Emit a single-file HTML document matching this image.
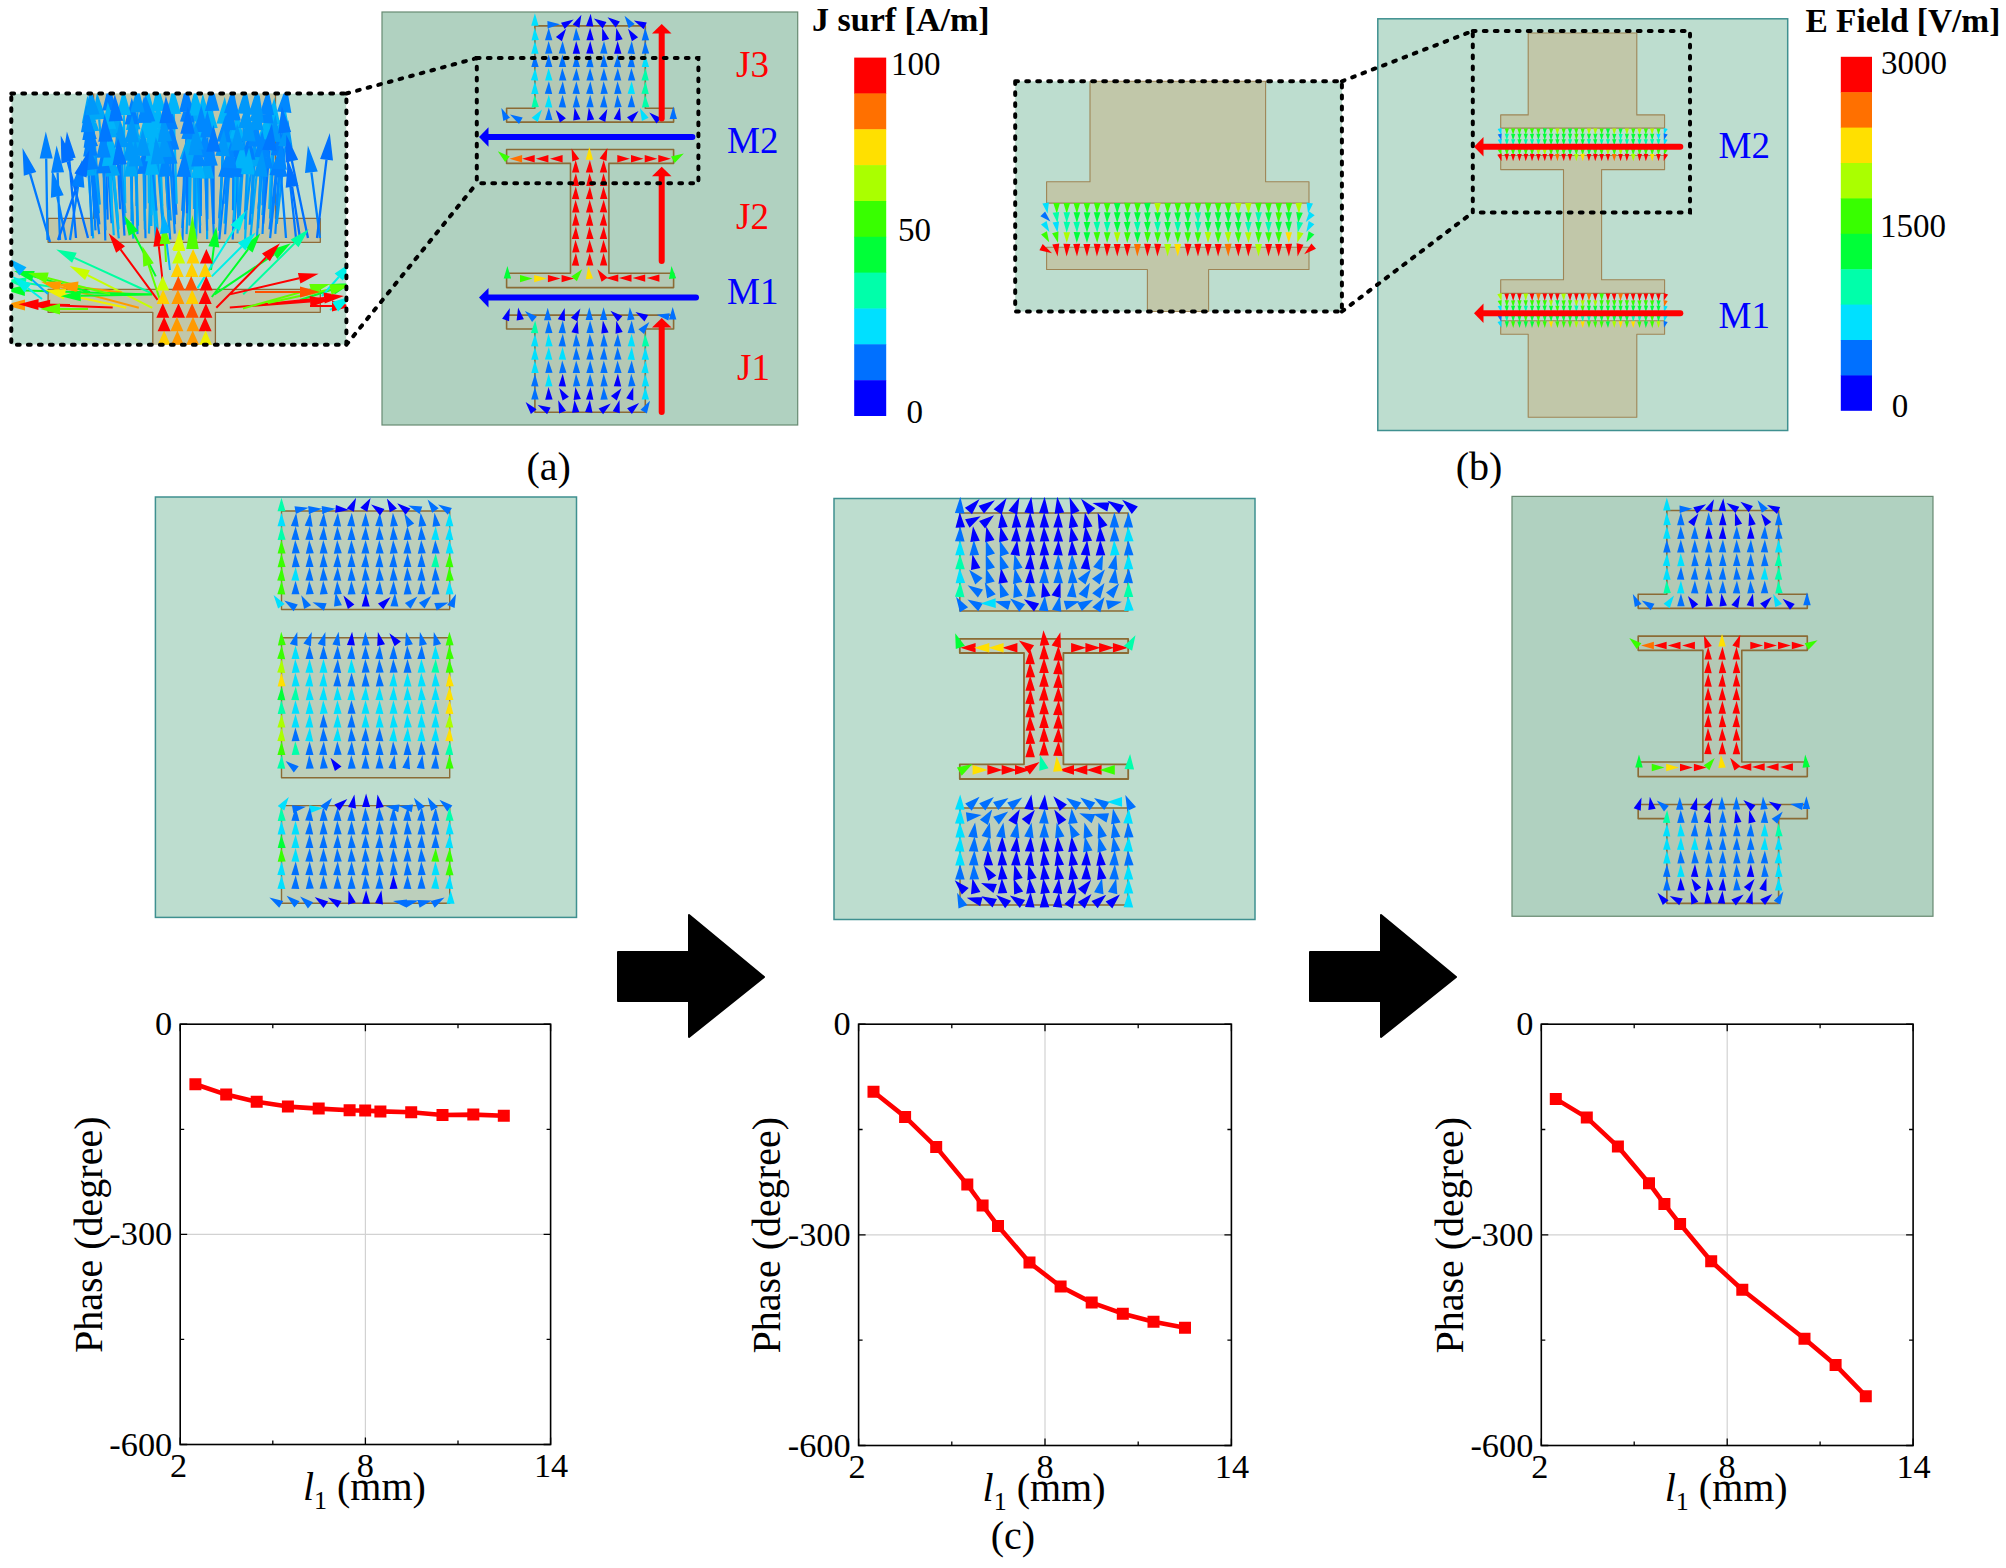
<!DOCTYPE html>
<html><head><meta charset="utf-8"><title>Figure</title>
<style>html,body{margin:0;padding:0;background:#fff}svg{display:block}text{font-family:'Liberation Serif','Times New Roman',serif}</style>
</head><body>
<svg width="2006" height="1568" viewBox="0 0 2006 1568">
<defs><clipPath id="cpa"><rect x="11.3" y="93.5" width="335.1" height="251.2"/></clipPath></defs>
<g clip-path="url(#cpa)">
<rect x="11.3" y="93.5" width="335.1" height="251.2" fill="#bdddcf"/>
<polygon points="93.6,80 275.5,80 275.5,218.4 320.3,218.4 320.3,242.3 48.1,242.3 48.1,218.4 93.6,218.4" fill="#c1c7a9" stroke="#8f6a38" stroke-width="1.3" stroke-linejoin="round"/>
<polygon points="48.1,289.4 320.3,289.4 320.3,312.3 215.4,312.3 215.4,360 152.8,360 152.8,312.3 48.1,312.3" fill="#c1c7a9" stroke="#8f6a38" stroke-width="1.3" stroke-linejoin="round"/>
<path d="M93.2 238.4L88.6 175.8M118.8 238.4L112.8 176M133.3 238.6L131 176.4M207.1 239.3L207 178.4M149 233.6L150.7 168.4M186.6 234.1L189.1 169.6M250.6 235.9L257.4 166.5M182.2 228.2L186.9 159.6M138 225.8L136.1 150.1M151.3 225.9L151.9 151.7M163.9 224.5L157 150M189.5 225.6L191.2 152M224.5 223.7L230.4 150M118 220.7L110.5 137.6M99 213.4L92 131.4M125.5 213L117.8 133.4M137.5 215.3L133.3 129.7M262.4 215L270 130.5M94.6 210.6L89 122.7M106.7 209.3L99.2 119.4M194 209L193.6 121.6" stroke="#00a8f8" stroke-width="2.2" fill="none"/>
<path d="M105.3 240.5L103.7 173.2M145.5 238.2L144.2 173.7M182.5 240.3L183.9 177M219.3 239.3L225.5 177.2M232.7 239.5L235.5 176.9M270.1 238.1L276.7 175.8M99.2 234.2L91.4 169.6M95.5 230.3L90.4 156.1M234.1 228.3L238.8 157.5M245.3 229.5L248.1 159.5M269.5 229.4L277.9 156M99.4 224.4L90.8 146.9M111.6 223.3L106.7 151.2M175 224.2L172.1 149.8M95.1 218.8L89.6 139.6M176.5 214.7L170.7 129.6M131.9 208.9L131.8 124.4M182.2 210.8L187.3 122M111.5 203.2L109.6 110.3M187.1 205.4L186.3 111.8" stroke="#0080ff" stroke-width="2.2" fill="none"/>
<path d="M155.8 240.2L152.2 174.9M196.1 239L197.9 178M245.1 240.1L247.9 174.4M113.8 235.2L109.2 165.8M237.5 233.5L241 168.4M118.6 229.4L112.4 159.8M157.6 229.3L152.5 160.7M144.8 220.9L145.7 138.4M156 218.2L153.5 142.6M195.2 219.9L197.4 141.6M234 219.7L236.8 138.7M258.5 219.2L265 139.4M112.3 214.6L108.9 129M151.6 215.3L152.9 132.9M161.9 213.4L158.7 128.6M213.2 214.2L210.5 128.3M276.7 215.8L282.9 132.2M206.7 209.8L203.7 120.5M220.5 209.8L223.8 123.8M269.2 209.1L273.1 124.3M125.2 203.3L123.9 115.2M148.9 203.2L147.9 114.1M162.3 205.8L158.7 110.9M176.7 203.8L173.8 113.9M200.6 205.9L196.4 115.5" stroke="#00b4fa" stroke-width="2.2" fill="none"/>
<path d="M170.2 239.5L165.9 176.6M174.8 233.6L170.3 164M200.1 233.2L198.4 166.3M213.9 235.8L210.6 165.9M225.1 234.2L229.4 168M262.5 234L265.8 168.3M275.3 233.9L279.6 169.3M105.5 230.3L103.5 157.6M207.1 230.8L205 157.5M258.1 228.2L261.1 157.3M249.7 224.7L254.9 146.7M183 220.2L188.5 139.3M207.3 219.3L207.4 137.5M219.2 218.3L223.8 142M200.8 216L201.1 132M225.9 215.2L229 130M145.4 208.8L144.4 122.8M156.5 210.6L148.1 122M233 210.2L233.6 120.3M258.4 208.9L266.3 123.1M212.9 205.8L212.1 110.9M225.2 203.7L231.2 113.5M262.5 205.4L266.8 114.7M276.2 205.6L284.2 112.3" stroke="#0088ff" stroke-width="2.2" fill="none"/>
<path d="M256.9 238.7L260.5 176.7M137.5 234.1L135.9 166.4M163.5 235.1L157.9 164.1M133.1 228.5L130.4 160.5M144.9 229.4L143.2 155.9M168.9 228.5L165.1 157.2M194.9 228.8L195.6 155.2M219.1 230.9L222.6 156.2M125 224.8L121.2 147.4M200.2 225.5L196.5 149.7M238.2 225.3L237.4 150.4M276.8 223.8L285.4 146.7M131.5 220.9L131.9 142.3M170.8 220.5L164.9 141.4M244.7 219.2L248.4 141.1M270 218.6L274.1 141.8M239.6 215.7L245.5 128.3M251.8 214L256.4 130M246.6 209.9L256.5 121.5M99.8 204.6L92.4 114.7M136.4 205.9L137.4 112.3M239.6 204.9L244.3 113.7M251.3 206L255.8 114.7" stroke="#0098fa" stroke-width="2.2" fill="none"/>
<path d="M124.5 235.6L119.8 164.8M213.7 224.1L213.5 151.7M263.2 223.6L269.5 150.3M107.7 219.6L105.4 141.6M186.9 213.3L187.6 133.8M120.1 209.3L116 121.1M169 209.9L166.6 123" stroke="#0078ff" stroke-width="2.2" fill="none"/>
<path d="M50 242L30.1 173.9M296 238L284.7 132.8" stroke="#0078ff" stroke-width="2.3" fill="none"/>
<path d="M47.5 240L46.2 158.5M60 240L57.6 172.5M70 240L78 186.7M66 240L57.3 196.5M320 238L311.4 172.3M286 238L281.1 176.9" stroke="#0080ff" stroke-width="2.3" fill="none"/>
<path d="M76 238L69.2 158.4M88 238L67.7 161.7M58 240L80.5 175.5M308 238L291.9 161.1M317 238L326.5 159.7M300 238L292.1 186.7" stroke="#0070ff" stroke-width="2.3" fill="none"/>
<path d="M92 236L87.4 132" stroke="#0088ff" stroke-width="2.3" fill="none"/>
<path d="M86.7 148.9L95.9 175.3L81.4 176.3ZM110.2 149.2L120 175.3L105.6 176.7ZM130.1 149.4L138.3 176.2L123.8 176.7ZM206.9 151.4L214.2 178.4L199.7 178.4ZM151.4 141.4L158 168.6L143.5 168.2ZM190.2 142.6L196.4 169.9L181.9 169.3ZM260 139.6L264.6 167.2L250.2 165.8ZM188.8 132.7L194.2 160.1L179.7 159.1ZM135.5 123.1L143.4 149.9L128.9 150.2ZM152.2 124.7L159.2 151.8L144.7 151.6ZM154.6 123.1L164.2 149.3L149.8 150.7ZM191.8 125L198.4 152.1L183.9 151.8ZM232.6 123.1L237.6 150.6L223.2 149.4ZM108 110.7L117.7 137L103.3 138.3ZM89.7 104.5L99.2 130.8L84.8 132ZM115.2 106.6L125 132.7L110.6 134.1ZM131.9 102.7L140.5 129.3L126 130ZM272.4 103.6L277.2 131.1L262.7 129.9ZM87.3 95.8L96.3 122.3L81.8 123.2ZM97 92.5L106.4 118.8L92 120ZM193.5 94.6L200.8 121.6L186.3 121.6Z" fill="#00a8f8"/>
<path d="M103.1 146.3L111 173.1L96.5 173.4ZM143.7 146.7L151.5 173.6L137 173.9ZM184.4 150L191.1 177.1L176.6 176.8ZM228.1 150.3L232.7 177.9L218.2 176.4ZM236.7 149.9L242.8 177.2L228.3 176.6ZM279.6 149L284 176.6L269.5 175ZM88.1 142.8L98.6 168.7L84.2 170.5ZM88.6 129.1L97.7 155.6L83.2 156.6ZM240.6 130.5L246.1 158L231.6 157ZM249.2 132.6L255.4 159.8L240.9 159.3ZM281 129.1L285.1 156.8L270.7 155.1ZM87.8 120.1L98 146.1L83.6 147.7ZM104.8 124.2L113.9 150.7L99.5 151.7ZM171.1 122.8L179.3 149.5L164.9 150.1ZM87.7 112.6L96.8 139L82.3 140.1ZM168.9 102.6L178 129.1L163.5 130.1ZM131.8 97.4L139.1 124.3L124.6 124.4ZM188.8 95L194.5 122.4L180 121.6ZM109 83.3L116.8 110.2L102.3 110.5ZM186.1 84.8L193.6 111.7L179.1 111.9ZM45.8 131.5L52.7 158.4L39.7 158.6ZM56.6 145.5L64.1 172.2L51.1 172.7ZM82 160L84.4 187.7L71.6 185.7ZM52 170L63.7 195.2L50.9 197.8ZM307.9 145.5L317.8 171.4L305 173.1ZM279 150L287.6 176.4L274.7 177.4Z" fill="#0080ff"/>
<path d="M150.7 148L159.4 174.5L144.9 175.3ZM198.8 151L205.2 178.2L190.7 177.8ZM249.1 147.4L255.2 174.7L240.7 174.1ZM107.4 138.9L116.4 165.3L101.9 166.3ZM242.5 141.4L248.3 168.8L233.8 168ZM110.1 132.9L119.6 159.1L105.2 160.4ZM150.6 133.8L159.8 160.2L145.3 161.2ZM146 111.4L153 138.5L138.5 138.3ZM152.6 115.6L160.7 142.4L146.2 142.9ZM198.2 114.6L204.6 141.8L190.1 141.4ZM237.7 111.7L244 138.9L229.5 138.4ZM267.2 112.5L272.2 140L257.8 138.8ZM107.8 102L116.2 128.7L101.7 129.3ZM153.3 105.9L160.1 133L145.6 132.7ZM157.7 101.6L165.9 128.3L151.4 128.9ZM209.7 101.3L217.7 128L203.2 128.5ZM284.9 105.2L290.1 132.7L275.7 131.6ZM202.8 93.5L211 120.3L196.5 120.8ZM224.8 96.8L231 124.1L216.6 123.5ZM274.4 97.4L280.4 124.7L265.9 124ZM123.5 88.2L131.1 115.1L116.6 115.3ZM147.6 87.1L155.1 114L140.6 114.1ZM157.6 84L165.9 110.7L151.4 111.2ZM172.9 86.9L181 113.7L166.5 114.2ZM195.1 88.5L203.6 115.2L189.1 115.8Z" fill="#00b4fa"/>
<path d="M164 149.7L173.1 176.1L158.6 177.1ZM168.5 137.1L177.5 163.5L163 164.5ZM197.7 139.3L205.7 166.2L191.2 166.5ZM209.3 138.9L217.8 165.6L203.4 166.3ZM231.2 141.1L236.6 168.5L222.2 167.5ZM267.2 141.4L273 168.7L258.6 168ZM281.5 142.4L286.9 169.8L272.4 168.8ZM102.8 130.6L110.8 157.4L96.3 157.8ZM204.2 130.5L212.2 157.2L197.7 157.7ZM262.3 130.3L268.4 157.6L253.9 157ZM256.7 119.7L262.1 147.1L247.7 146.2ZM190.4 112.4L195.7 139.8L181.3 138.8ZM207.4 110.5L214.6 137.5L200.1 137.5ZM225.5 115L231.1 142.4L216.6 141.5ZM201.2 105L208.3 132L193.8 132ZM230 103L236.3 130.3L221.8 129.7ZM144.1 95.8L151.6 122.8L137.1 122.9ZM145.6 95.1L155.3 121.3L140.9 122.7ZM233.7 93.3L240.8 120.4L226.3 120.3ZM268.8 96.2L273.5 123.8L259.1 122.4ZM211.9 83.9L219.4 110.8L204.9 110.9ZM233 86.6L238.4 114L224 113.1ZM268 87.7L274 115.1L259.5 114.4ZM286.5 85.3L291.4 112.9L277 111.6ZM86.2 105L93.9 131.7L80.9 132.3Z" fill="#0088ff"/>
<path d="M262.2 149.7L267.8 177.1L253.3 176.3ZM135.2 139.4L143.1 166.2L128.6 166.6ZM155.8 137.1L165.1 163.5L150.7 164.6ZM129.3 133.5L137.6 160.2L123.1 160.8ZM142.6 128.9L150.5 155.7L136 156.1ZM163.7 130.3L172.3 156.8L157.9 157.6ZM195.9 128.2L202.8 155.3L188.3 155.1ZM223.9 129.2L229.8 156.5L215.3 155.8ZM119.9 120.5L128.4 147.1L113.9 147.8ZM195.2 122.8L203.8 149.4L189.3 150.1ZM237.2 123.4L244.7 150.3L230.2 150.4ZM288.4 119.9L292.6 147.5L278.2 145.9ZM132 115.3L139.2 142.3L124.7 142.3ZM163 114.5L172.2 140.9L157.7 142ZM249.6 114.1L255.6 141.4L241.1 140.7ZM275.5 114.8L281.3 142.1L266.9 141.4ZM247.3 101.4L252.7 128.8L238.3 127.8ZM257.9 103.1L263.6 130.4L249.2 129.6ZM259.6 94.7L263.7 122.3L249.3 120.7ZM90.2 87.8L99.6 114.2L85.2 115.3ZM137.7 85.3L144.7 112.4L130.2 112.2ZM245.7 86.8L251.5 114.1L237.1 113.4ZM257.1 87.7L263 115.1L248.5 114.4Z" fill="#0098fa"/>
<path d="M117.9 137.8L127 164.3L112.5 165.3ZM213.4 124.7L220.7 151.7L206.2 151.8ZM271.8 123.4L276.7 150.9L262.2 149.7ZM104.6 114.6L112.7 141.4L98.2 141.8ZM187.8 106.8L194.8 133.8L180.3 133.7ZM114.7 94.1L123.2 120.7L108.7 121.4ZM165.9 96L173.9 122.8L159.4 123.2ZM22.5 148L36.3 172.1L23.8 175.7ZM281.8 106L291.2 132.1L278.2 133.5Z" fill="#0078ff"/>
<path d="M66.9 131.5L75.7 157.8L62.7 159ZM60.7 135.6L73.9 160L61.4 163.4ZM89.4 150L86.6 177.6L74.4 173.4ZM286.3 134.7L298.2 159.8L285.5 162.5ZM329.8 132.9L333 160.5L320.1 158.9ZM288 160L298.5 185.7L285.7 187.7Z" fill="#0070ff"/>
<path d="M152.2 293.5L74.4 257.8M60 288L25.8 282.9M243.2 294.4L294.6 243.4" stroke="#00ffa0" stroke-width="2.0" fill="none"/>
<path d="M152.2 307.8L87.5 275.1" stroke="#c8ff00" stroke-width="2.0" fill="none"/>
<path d="M138.8 307.8L60.2 286.9M121.7 292.6L77.8 287M30 305L25 305" stroke="#ff9a00" stroke-width="2.0" fill="none"/>
<path d="M126.2 307.8L64.9 294.2" stroke="#f0f000" stroke-width="2.0" fill="none"/>
<path d="M152.2 294.4L80.7 295.8M90 292L33.3 276.3M152 294.4L25 290.6M155.8 276.4L133.6 233.2M211 270L213.9 246.8M211.8 297L248.2 249.2M214.5 294.4L274.2 254.3M300 300L333 289.2" stroke="#00ff28" stroke-width="2.0" fill="none"/>
<path d="M70 305L38.5 304.6M112.7 307.4L50 305.2M157.6 299.8L120.5 249.4M163 284.5L158.8 246.1M216.3 307.8L266 257.4M229.8 294.4L299.1 278.2M229.8 307.5L310.1 301.5M256 305L324.1 298M310 306L332 306" stroke="#ff0000" stroke-width="2.0" fill="none"/>
<path d="M110 294L47.4 278M88 309L60 309M160 300L148.5 265M166 262L165.1 244M243 308.5L310.7 289.4M268 303L330.5 289.3" stroke="#60ff00" stroke-width="2.0" fill="none"/>
<path d="M48 294L22.9 271.4M170 270L165.5 233.4" stroke="#00b0ff" stroke-width="2.0" fill="none"/>
<path d="M42 299L27.9 288.2M197.5 288.1L235.3 227.8M211.8 276.4L241.7 246.5M322 296L338.8 277M330 310L335.1 306.7" stroke="#00f0e8" stroke-width="2.0" fill="none"/>
<path d="M255 292L300 292" stroke="#ff5000" stroke-width="2.0" fill="none"/>
<path d="M56.2 249.5L76.7 252.8L72.1 262.8ZM6 280L26.6 277.5L25 288.4ZM308.8 229.3L298.5 247.3L290.7 239.5Z" fill="#00ffa0"/>
<path d="M69.6 266.1L89.9 270.2L85 280Z" fill="#c8ff00"/>
<path d="M40.9 281.8L61.6 281.6L58.8 292.2ZM58 284.5L78.5 281.6L77.1 292.5ZM5 305L25 299.5L25 310.5Z" fill="#ff9a00"/>
<path d="M45.4 289.9L66.1 288.9L63.7 299.6Z" fill="#f0f000"/>
<path d="M60.7 296.2L80.6 290.3L80.8 301.3ZM14 271L34.7 271L31.8 281.6ZM5 290L25.2 285.1L24.8 296.1ZM124.4 215.4L138.4 230.7L128.7 235.7ZM216.3 227L219.3 247.5L208.4 246.2ZM260.3 233.3L252.6 252.5L243.8 245.9ZM290.8 243.2L277.3 258.9L271.1 249.8ZM352 283L334.7 294.4L331.3 284Z" fill="#00ff28"/>
<path d="M18.5 304.3L38.6 299.1L38.4 310.1ZM30 304.5L50.2 299.7L49.8 310.7ZM108.7 233.3L125 246.2L116.1 252.7ZM156.7 226.2L164.3 245.5L153.4 246.7ZM280 243.2L269.9 261.3L262 253.6ZM318.6 273.7L300.4 283.6L297.9 272.9ZM330 300L310.5 307L309.6 296ZM344 296L324.7 303.5L323.5 292.6ZM352 306L332 311.5L332 300.5Z" fill="#ff0000"/>
<path d="M28 273L48.7 272.6L46 283.3ZM40 309L60 303.5L60 314.5ZM142.3 246L153.8 263.3L143.3 266.7ZM164 224L170.5 243.7L159.6 244.3ZM330 284L312.2 294.7L309.3 284.1ZM350 285L331.6 294.7L329.3 283.9Z" fill="#60ff00"/>
<path d="M8 258L26.5 267.3L19.2 275.5ZM163 213.6L170.9 232.8L160 234.1Z" fill="#00b0ff"/>
<path d="M12 276L31.2 283.8L24.5 292.5ZM245.9 210.9L239.9 230.8L230.6 224.9ZM255.8 232.4L245.5 250.4L237.8 242.7ZM352 262L342.9 280.6L334.6 273.4ZM352 296L338.1 311.4L332.2 302.1Z" fill="#00f0e8"/>
<path d="M320 292L300 297.5L300 286.5Z" fill="#ff5000"/>
<path fill="#ffd000" d="M164.1 330.4L170.6 344.9L157.6 344.9ZM163.1 289.6L169.6 304.1L156.6 304.1ZM177.3 262.4L183.8 276.9L170.8 276.9ZM192.2 289.6L198.7 304.1L185.7 304.1ZM191.8 262.4L198.3 276.9L185.3 276.9ZM193.1 248.9L199.6 263.4L186.6 263.4ZM205.2 262.4L211.7 276.9L198.7 276.9Z"/>
<path fill="#ff0000" d="M164.1 316.8L170.6 331.3L157.6 331.3ZM162.8 303.2L169.3 317.8L156.3 317.8ZM178.5 303.2L185 317.8L172 317.8ZM205.1 316.8L211.6 331.3L198.6 331.3ZM205.9 303.2L212.4 317.8L199.4 317.8ZM205.2 289.6L211.7 304.1L198.7 304.1ZM206.2 276.1L212.7 290.6L199.7 290.6ZM206.4 248.9L212.9 263.4L199.9 263.4Z"/>
<path fill="#c8ff00" d="M162.7 276.1L169.2 290.6L156.2 290.6ZM178.7 248.9L185.2 263.4L172.2 263.4Z"/>
<path fill="#ff9a00" d="M177.4 330.4L183.9 344.9L170.9 344.9ZM176.9 316.8L183.4 331.3L170.4 331.3ZM177.9 289.6L184.4 304.1L171.4 304.1ZM192.7 330.4L199.2 344.9L186.2 344.9ZM193 316.8L199.5 331.3L186.5 331.3Z"/>
<path fill="#ff5000" d="M178.3 276.1L184.8 290.6L171.8 290.6ZM192.1 303.2L198.6 317.8L185.6 317.8ZM191.2 276.1L197.7 290.6L184.7 290.6Z"/>
<path fill="#f0f000" d="M178.6 235.2L185.1 249.8L172.1 249.8ZM205.6 330.4L212.1 344.9L199.1 344.9Z"/>
<path fill="#d8ff00" d="M179.5 229L185.1 251.1L173.1 250.9Z"/>
<path fill="#50ff00" d="M192.4 215L198.7 249L186.2 249Z"/>
</g>
<rect x="11.3" y="93.5" width="335.1" height="251.2" fill="none" stroke="#000" stroke-width="4" stroke-dasharray="2.8 8.2" stroke-linecap="round"/>
<defs><g id="amain">
<rect x="382" y="12" width="415.7" height="413" fill="#b0d1c0" stroke="#688a72" stroke-width="1.2"/>
<polygon points="534.9,25.9 645.3,25.9 645.3,108.2 673.6,108.2 673.6,122.1 506.6,122.1 506.6,108.2 534.9,108.2" fill="#b4c9b5" stroke="#8b6b35" stroke-width="1.6" stroke-linejoin="round"/>
<polygon points="506.6,149.5 673.6,149.5 673.6,163.4 608.9,163.4 608.9,273.3 673.6,273.3 673.6,287.6 506.6,287.6 506.6,273.3 570.5,273.3 570.5,163.4 506.6,163.4" fill="#b4c9b5" stroke="#8b6b35" stroke-width="1.6" stroke-linejoin="round"/>
<polygon points="506.6,315.1 673.6,315.1 673.6,329 645.3,329 645.3,412.3 534.9,412.3 534.9,329 506.6,329" fill="#b4c9b5" stroke="#8b6b35" stroke-width="1.6" stroke-linejoin="round"/>
<path fill="#00e0ff" d="M534.6 27.7L538.9 40.1L531.5 40.5ZM534.9 41.1L538.6 53.7L531.2 53.7ZM645.2 54.5L649.1 67.1L641.7 67.1ZM535.2 67.9L538.3 80.7L530.9 80.3ZM548.6 67.9L552.5 80.4L545.1 80.6ZM534.9 81.3L538.6 93.9L531.2 93.9ZM631.7 81.3L635 94L627.6 93.8ZM548.8 94.7L552.3 107.4L544.9 107.2ZM534.9 13.2L538.6 25.8L531.2 25.8ZM542 109.5L537.8 122L531.7 117.7ZM639.9 108L648.6 117.8L641.9 120.9ZM535.1 333.8L538.4 346.5L531 346.3ZM548.4 333.8L552.7 346.2L545.3 346.5ZM631.6 333.8L635.1 346.5L627.7 346.3ZM534.9 347.1L538.6 359.7L531.2 359.7ZM548.8 347.1L552.3 359.8L544.9 359.6ZM562.6 347.1L566.1 359.8L558.7 359.6ZM631.8 347.1L634.9 359.9L627.5 359.5ZM645.3 347.1L649 359.7L641.6 359.7ZM534.8 360.4L538.7 373L531.3 373ZM645.6 360.4L648.7 373.2L641.3 372.8ZM548.6 373.7L552.5 386.2L545.1 386.4ZM645.1 373.7L649.2 386.2L641.8 386.4ZM645.3 387L649 399.6L641.6 399.6Z"/>
<path fill="#0070ff" d="M548.7 27.7L552.4 40.3L545 40.3ZM576.1 27.7L580.2 40.2L572.8 40.4ZM645.2 27.7L649.1 40.2L641.7 40.4ZM548.6 41.1L552.5 53.6L545.1 53.8ZM562.6 41.1L566.1 53.8L558.7 53.6ZM604 41.1L607.5 53.8L600.1 53.6ZM631.8 41.1L634.9 53.9L627.5 53.5ZM645.1 41.1L649.2 53.6L641.8 53.8ZM534.8 54.5L538.7 67.1L531.3 67.1ZM548.7 54.5L552.4 67.1L545 67.1ZM562.5 54.5L566.2 67.1L558.8 67.1ZM576.3 54.5L580 67.1L572.6 67.1ZM590.3 54.5L593.6 67.2L586.2 67ZM603.8 54.5L607.7 67.1L600.3 67.1ZM617.9 54.5L621.2 67.2L613.8 67ZM631.7 54.5L635 67.2L627.6 67ZM562.3 67.9L566.4 80.4L559 80.6ZM576.5 67.9L579.8 80.6L572.4 80.4ZM590.1 67.9L593.8 80.5L586.4 80.5ZM603.9 67.9L607.6 80.5L600.2 80.5ZM617.8 67.9L621.3 80.6L613.9 80.4ZM631.4 67.9L635.3 80.4L627.9 80.6ZM548.9 81.3L552.2 94L544.8 93.8ZM562.8 81.3L565.9 94.1L558.5 93.7ZM576.4 81.3L579.9 94L572.5 93.8ZM590.4 81.3L593.5 94.1L586.1 93.7ZM603.6 81.3L607.9 93.7L600.5 94.1ZM617.5 81.3L621.6 93.8L614.2 94ZM562.6 94.7L566.1 107.4L558.7 107.2ZM576.2 94.7L580.1 107.2L572.7 107.4ZM590.2 94.7L593.7 107.3L586.3 107.3ZM604.1 94.7L607.4 107.4L600 107.2ZM617.4 94.7L621.7 107.1L614.3 107.5ZM631.6 94.7L635.1 107.3L627.7 107.3ZM560.1 24.2L547.6 28.4L547.4 21ZM624.5 15.8L634.7 24L628.7 28.2ZM501.3 108L510 117.8L503.3 120.9ZM510 114.5L522.7 117.6L519 124ZM548.8 107.4L552.5 120L545.1 120ZM673.3 106.4L677 119L669.6 119ZM524.9 311.1L536.9 316.4L532.1 322ZM547.7 307.7L551.4 320.3L544 320.3ZM589.3 307.3L593 319.9L585.6 319.9ZM603.6 307.3L607.3 319.9L599.9 319.9ZM629.8 307.3L634.6 319.6L627.2 320.2ZM656.6 314.7L669.7 313.3L668.4 320.5ZM672.7 306.9L676.4 319.5L669 319.5ZM548.6 320.5L552.5 333L545.1 333.2ZM562.8 320.5L565.9 333.2L558.6 332.9ZM590.1 320.5L593.8 333.1L586.4 333.1ZM631.7 320.5L635 333.2L627.6 333ZM649.4 322L644 334L638.4 329.2ZM562.8 333.8L565.9 346.6L558.5 346.2ZM576.1 333.8L580.2 346.3L572.8 346.5ZM589.8 333.8L594.1 346.2L586.7 346.5ZM603.8 333.8L607.7 346.4L600.3 346.4ZM617.9 333.8L621.2 346.5L613.8 346.3ZM576.2 347.1L580.1 359.7L572.7 359.7ZM590.2 347.1L593.7 359.8L586.3 359.6ZM604.1 347.1L607.4 359.8L600 359.6ZM617.6 347.1L621.5 359.6L614.1 359.8ZM548.4 360.4L552.6 372.8L545.3 373.1ZM562.2 360.4L566.5 372.8L559.1 373.2ZM576.2 360.4L580.1 372.9L572.7 373.1ZM590.2 360.4L593.7 373.1L586.3 372.9ZM603.8 360.4L607.7 372.9L600.3 373.1ZM617.5 360.4L621.6 372.9L614.2 373.1ZM631.7 360.4L635 373.1L627.6 372.9ZM535 373.7L538.5 386.4L531.1 386.2ZM576 373.7L580.3 386.1L572.9 386.5ZM590.1 373.7L593.8 386.3L586.4 386.3ZM603.7 373.7L607.8 386.2L600.4 386.4ZM631.2 373.7L635.5 386.1L628.1 386.5ZM534.9 387L538.6 399.6L531.2 399.6ZM603.7 387L607.8 399.5L600.4 399.7ZM650 400.7L646.9 413.5L640.5 409.8Z"/>
<path fill="#0000ff" d="M566.1 28.8L561.9 41.3L555.9 37.1ZM590.1 27.7L593.8 40.3L586.4 40.3ZM602.2 27.9L609.2 39L602.1 41.1ZM616.3 27.9L622.7 39.3L615.5 41ZM628 28.7L638.1 37.2L631.9 41.3ZM576.2 41.1L580.1 53.7L572.7 53.7ZM590.3 41.1L593.6 53.8L586.2 53.6ZM617.6 41.1L621.5 53.7L614.1 53.7ZM573.7 19.6L564.7 29.1L561 22.7ZM581.4 14.7L579.4 27.7L572.7 24.6ZM590.7 13.7L593.3 26.6L586 25.9ZM593.8 18.6L606.5 22.1L602.6 28.4ZM607.5 17.3L619.9 21.5L615.7 27.6ZM633.8 20.5L646.8 22.5L643.7 29.2ZM555.7 110L565.9 118.2L559.9 122.5ZM574.6 107.5L580.5 119.2L573.2 120.5ZM588.8 107.4L594.2 119.4L586.9 120.4ZM607.3 109L605.3 121.9L598.6 118.8ZM619.9 107.5L620.9 120.6L613.7 119.1ZM638.5 111L632.2 122.5L627 117.3ZM649.2 112.6L661.2 117.9L656.5 123.5ZM509.9 308.1L509.1 321.2L502.1 318.7ZM518.1 307.4L523.9 319.2L516.6 320.5ZM564.7 308L565 321.1L557.8 319.2ZM580.4 308.6L577.3 321.4L570.9 317.7ZM610.4 310.7L622.4 315.9L617.7 321.6ZM635.4 312L648.2 315.1L644.5 321.5ZM577.6 320.6L578.6 333.7L571.4 332.2ZM602.9 320.6L608.6 332.4L601.3 333.6ZM616.3 320.7L622.7 332.1L615.5 333.8ZM562.7 373.7L566 386.4L558.6 386.2ZM617.9 373.7L621.2 386.4L613.8 386.2ZM548.5 387L552.6 399.5L545.2 399.7ZM559.2 387.9L568.9 396.8L562.6 400.6ZM575.4 387.1L580.9 399L573.6 400.1ZM590.5 387L593.4 399.8L586 399.4ZM621.5 388.3L616.8 400.6L610.9 396.1ZM633.3 387.3L633.3 400.4L626.2 398.3ZM525.6 402L536.6 409.3L530.9 414ZM537.7 405L550.6 407.6L547.1 414.2ZM558.2 400.3L566 410.8L559.1 413.4ZM574.5 399.9L579.3 412.1L572 412.8ZM589.9 399.9L592.5 412.8L585.1 412.1ZM610.8 403.6L603.1 414.3L598.6 408.5ZM619.5 400.1L619.8 413.2L612.7 411.3ZM639.1 403L631.9 413.9L627.1 408.3Z"/>
<path fill="#00ffaa" d="M645.5 67.9L648.8 80.6L641.4 80.4ZM645.5 81.3L648.8 94L641.4 93.8ZM534.6 94.7L538.9 107.1L531.5 107.5ZM645 94.7L649.3 107.1L641.9 107.5ZM535.2 320.5L538.3 333.3L530.9 332.9ZM645 333.8L649.3 346.2L641.9 346.5Z"/>
<path fill="#ff0000" d="M575.7 159.9L579.4 172.5L572 172.5ZM589.9 159.9L593.2 172.6L585.8 172.4ZM603.7 159.9L607.2 172.5L599.8 172.5ZM575.9 173.2L579.2 185.9L571.8 185.7ZM589.5 173.2L593.6 185.7L586.2 185.9ZM603.5 173.2L607.4 185.7L600 185.9ZM575.8 186.5L579.3 199.2L571.9 199ZM589.9 186.5L593.2 199.2L585.8 199ZM603.5 186.5L607.4 199.1L600 199.1ZM575.6 199.8L579.5 212.4L572.1 212.4ZM589.7 199.8L593.4 212.4L586 212.4ZM603.7 199.8L607.2 212.5L599.8 212.3ZM575.6 213.1L579.5 225.6L572.1 225.8ZM589.8 213.1L593.3 225.7L585.9 225.7ZM603.8 213.1L607.1 225.8L599.7 225.6ZM575.9 226.4L579.2 239.1L571.8 238.9ZM589.5 226.4L593.6 238.9L586.2 239.1ZM603.8 226.4L607.1 239.1L599.7 238.9ZM575.5 239.7L579.6 252.2L572.2 252.4ZM589.6 239.7L593.5 252.2L586.1 252.4ZM603.5 239.7L607.4 252.2L600 252.4ZM575.9 253L579.2 265.7L571.8 265.5ZM589.7 253L593.4 265.6L586 265.6ZM603.6 253L607.3 265.6L599.9 265.6ZM522.1 158.7L534.7 155L534.7 162.4ZM535.8 158.7L548.4 155L548.4 162.4ZM550 158.7L562.6 155L562.6 162.4ZM571.5 148.5L579.3 159.1L572.3 161.6ZM607.4 148L606.5 161.1L599.6 158.6ZM629.9 158.7L617.3 162.4L617.3 155ZM643.6 158.7L631 162.4L631 155ZM657.3 158.7L644.7 162.4L644.7 155ZM670.9 158.7L658.3 162.4L658.3 155ZM560.5 278.6L547.9 282.3L547.9 274.9ZM574.2 278.6L561.6 282.3L561.6 274.9ZM597.4 269.2L607.6 277.4L601.6 281.7ZM605.7 278.1L618.3 274.4L618.3 281.8ZM618.9 278.1L631.5 274.4L631.5 281.8ZM632.6 278.1L645.2 274.4L645.2 281.8ZM646.8 278.1L659.4 274.4L659.4 281.8Z"/>
<path fill="#38ff00" d="M497.8 151.2L509.8 156.4L505.1 162.1ZM683.8 153.4L674.7 162.9L671 156.5ZM532.6 278.6L520 282.3L520 274.9ZM582.2 269.3L576.9 281.3L571.3 276.5Z"/>
<path fill="#ff7000" d="M509.5 158.7L522.1 155L522.1 162.4Z"/>
<path fill="#ffe000" d="M589.4 147.1L593.1 159.7L585.7 159.7ZM546.8 278.6L534.2 282.3L534.2 274.9ZM588.3 266.3L593.1 278.6L585.8 279.2Z"/>
<path fill="#00ff38" d="M507.4 266L511.1 278.6L503.7 278.6ZM671.5 266L676.2 278.2L668.9 278.9Z"/>
</g></defs>
<use href="#amain"/>
<line x1="661.7" y1="118.5" x2="661.7" y2="33.5" stroke="#ff0000" stroke-width="6" stroke-linecap="round"/>
<polygon points="661.7,24 671.5,33.5 652,33.5" fill="#ff0000"/>
<line x1="661.7" y1="261" x2="661.7" y2="176.2" stroke="#ff0000" stroke-width="6" stroke-linecap="round"/>
<polygon points="661.7,166.7 671.5,176.2 652,176.2" fill="#ff0000"/>
<line x1="661.7" y1="412" x2="661.7" y2="327.5" stroke="#ff0000" stroke-width="6" stroke-linecap="round"/>
<polygon points="661.7,318 671.5,327.5 652,327.5" fill="#ff0000"/>
<line x1="692.4" y1="137" x2="488.5" y2="137" stroke="#0000ff" stroke-width="6" stroke-linecap="round"/>
<polygon points="479,137 488.5,127.2 488.5,146.8" fill="#0000ff"/>
<line x1="696" y1="297.6" x2="488.5" y2="297.6" stroke="#0000ff" stroke-width="6" stroke-linecap="round"/>
<polygon points="479,297.6 488.5,287.9 488.5,307.4" fill="#0000ff"/>
<rect x="476.8" y="58.1" width="221.6" height="125.1" fill="none" stroke="#000" stroke-width="4" stroke-dasharray="2.8 8.2" stroke-linecap="round"/>
<line x1="346.4" y1="93.5" x2="476.8" y2="58.1" stroke="#000" stroke-width="4" stroke-dasharray="2.8 8.2" stroke-linecap="round"/>
<line x1="346.4" y1="344.7" x2="476.8" y2="183.2" stroke="#000" stroke-width="4" stroke-dasharray="2.8 8.2" stroke-linecap="round"/>
<text x="736" y="77" font-size="37" fill="#ff0000">J3</text>
<text x="736" y="229" font-size="37" fill="#ff0000">J2</text>
<text x="737" y="379.5" font-size="37" fill="#ff0000">J1</text>
<text x="727" y="152.5" font-size="37" fill="#0000ff">M2</text>
<text x="727" y="304" font-size="37" fill="#0000ff">M1</text>
<rect x="854.2" y="57.6" width="32" height="36.3" fill="#ff0000"/>
<rect x="854.2" y="93.4" width="32" height="36.3" fill="#ff7000"/>
<rect x="854.2" y="129.3" width="32" height="36.3" fill="#ffe000"/>
<rect x="854.2" y="165.1" width="32" height="36.3" fill="#aaff00"/>
<rect x="854.2" y="201" width="32" height="36.3" fill="#38ff00"/>
<rect x="854.2" y="236.8" width="32" height="36.3" fill="#00ff38"/>
<rect x="854.2" y="272.6" width="32" height="36.3" fill="#00ffaa"/>
<rect x="854.2" y="308.5" width="32" height="36.3" fill="#00e0ff"/>
<rect x="854.2" y="344.3" width="32" height="36.3" fill="#0070ff"/>
<rect x="854.2" y="380.2" width="32" height="35.8" fill="#0000ff"/>
<text x="812" y="31" font-size="34" fill="#000" font-weight="bold">J surf [A/m]</text>
<text x="891" y="75.2" font-size="33" fill="#000">100</text>
<text x="898" y="241.4" font-size="33" fill="#000">50</text>
<text x="906.4" y="423" font-size="33" fill="#000">0</text>
<rect x="1015.2" y="81.3" width="326.7" height="230.2" fill="#bdddcf"/>
<polygon points="1090,81.3 1265.6,81.3 1265.6,181.7 1309,181.7 1309,203.1 1046.6,203.1 1046.6,181.7 1090,181.7" fill="#c1c7a9" stroke="#9e8556" stroke-width="1.1" stroke-linejoin="round"/>
<polygon points="1046.6,247.2 1309,247.2 1309,269.5 1208.6,269.5 1208.6,311.5 1147.4,311.5 1147.4,269.5 1046.6,269.5" fill="#c1c7a9" stroke="#9e8556" stroke-width="1.1" stroke-linejoin="round"/>
<path fill="#00e0ff" d="M1047.5 213.6L1042.4 203.6L1048.9 202.4ZM1308.1 213.6L1306.5 202.5L1313 203.5ZM1305.8 222.1L1309.3 211.4L1314.7 215.2ZM1049.4 231.9L1041 224.4L1046.6 221ZM1057.5 232.6L1052.6 222.5L1059.1 221.5ZM1306.3 232L1308.7 221L1314.4 224.2Z"/>
<path fill="#38ff00" d="M1056.8 213.7L1053.3 202.9L1059.9 202.9ZM1066.7 213.7L1063.5 202.9L1070.1 202.9ZM1076.9 213.7L1073.5 202.9L1080.1 202.9ZM1087 213.7L1083.6 202.9L1090.2 202.9ZM1096.9 213.7L1093.9 202.8L1100.5 203ZM1107.1 213.7L1103.8 202.9L1110.4 202.9ZM1127.2 213.7L1124.1 202.8L1130.7 203ZM1137.3 213.7L1134.2 202.8L1140.8 203ZM1167.6 213.7L1164.4 202.9L1171 202.9ZM1177.7 213.7L1174.5 202.9L1181.1 202.9ZM1188 213.7L1184.4 203L1191 202.8ZM1198 213.7L1194.6 203L1201.2 202.9ZM1207.9 213.7L1204.9 202.8L1211.5 203ZM1218.1 213.7L1214.9 202.9L1221.5 202.9ZM1228.3 213.7L1224.8 203L1231.4 202.8ZM1258.6 213.7L1255.1 203L1261.7 202.8ZM1268.6 213.7L1265.2 202.9L1271.8 202.9ZM1278.7 213.7L1275.4 202.9L1282 202.9ZM1288.6 213.7L1285.6 202.8L1292.2 203ZM1278.5 223.1L1275.5 212.2L1282.1 212.4ZM1049.2 242.3L1041.1 234.5L1046.9 231.3ZM1058 242.8L1052.1 233.2L1058.5 231.5ZM1097.2 243L1093.6 232.3L1100.2 232.1ZM1107.1 243L1103.9 232.2L1110.5 232.2ZM1127.2 243L1124.1 232.2L1130.7 232.2ZM1147.4 243L1144.3 232.1L1150.9 232.3ZM1157.6 243L1154.3 232.2L1160.9 232.2ZM1167.8 243L1164.3 232.2L1170.9 232.2ZM1177.8 243L1174.4 232.2L1181 232.2ZM1187.9 243L1184.5 232.2L1191.1 232.2ZM1197.9 243L1194.7 232.2L1201.3 232.2ZM1218.1 243L1214.9 232.2L1221.5 232.2ZM1238.4 243L1234.9 232.2L1241.5 232.2ZM1258.4 243L1255.3 232.1L1261.9 232.3ZM1268.7 243L1265.2 232.3L1271.8 232.2ZM1278.8 243L1275.3 232.3L1281.9 232.1Z"/>
<path fill="#00ff38" d="M1117.2 213.7L1113.9 202.9L1120.5 202.9ZM1147.6 213.7L1144.1 203L1150.7 202.8ZM1076.9 223.1L1073.6 212.3L1080.2 212.3ZM1086.8 223.1L1083.8 212.2L1090.4 212.4ZM1097 223.1L1093.8 212.3L1100.4 212.3ZM1107 223.1L1104 212.2L1110.6 212.4ZM1117.2 223.1L1113.9 212.3L1120.5 212.3ZM1127.4 223.1L1124 212.3L1130.6 212.3ZM1137.5 223.1L1134.1 212.3L1140.7 212.3ZM1147.6 223.1L1144.1 212.4L1150.7 212.2ZM1157.6 223.1L1154.3 212.3L1160.9 212.3ZM1167.8 223.1L1164.3 212.4L1170.9 212.2ZM1177.9 223.1L1174.3 212.4L1180.9 212.2ZM1187.9 223.1L1184.5 212.3L1191.1 212.3ZM1208.2 223.1L1204.6 212.4L1211.2 212.2ZM1218.1 223.1L1214.8 212.3L1221.4 212.3ZM1228.3 223.1L1224.9 212.3L1231.5 212.3ZM1238.4 223.1L1234.9 212.4L1241.5 212.2ZM1248.3 223.1L1245.2 212.2L1251.8 212.4ZM1268.7 223.1L1265.2 212.4L1271.8 212.2ZM1288.8 223.1L1285.4 212.3L1292 212.3ZM1298.2 223.1L1296.2 211.9L1302.8 212.7ZM1087 232.7L1083.7 221.9L1090.3 221.9ZM1117.3 232.7L1113.9 221.9L1120.5 221.9ZM1127.5 232.7L1123.9 222L1130.5 221.8ZM1147.6 232.7L1144.1 222L1150.7 221.8ZM1167.7 232.7L1164.3 221.9L1170.9 221.9ZM1187.9 232.7L1184.5 221.9L1191.1 221.9ZM1208 232.7L1204.8 221.9L1211.4 221.9ZM1218.1 232.7L1214.8 221.9L1221.4 221.9ZM1228.2 232.7L1224.9 221.9L1231.5 221.9ZM1238.3 232.7L1235 221.9L1241.6 221.9ZM1258.5 232.7L1255.2 221.9L1261.8 221.9ZM1278.8 232.7L1275.3 222L1281.9 221.8ZM1288.9 232.7L1285.3 222L1291.9 221.8ZM1076.8 243L1073.7 232.1L1080.3 232.3ZM1087 243L1083.6 232.2L1090.2 232.2ZM1137.5 243L1134.1 232.2L1140.7 232.2ZM1306.4 242.3L1308.6 231.3L1314.4 234.4Z"/>
<path fill="#aaff00" d="M1157.6 213.7L1154.3 202.9L1160.9 202.9ZM1238.3 213.7L1235 202.9L1241.6 202.9ZM1248.5 213.7L1245 202.9L1251.6 202.9ZM1299 213.7L1295.4 203L1302 202.8ZM1066.8 243L1063.5 232.2L1070.1 232.2ZM1117.2 243L1113.9 232.2L1120.5 232.2ZM1208 243L1204.8 232.1L1211.4 232.3ZM1228.3 243L1224.8 232.3L1231.4 232.1ZM1248.5 243L1245 232.2L1251.6 232.2ZM1297.3 242.8L1297.2 231.5L1303.5 233.3ZM1167.6 256.5L1164.2 243.9L1171.2 243.9ZM1258.5 256.5L1255 243.9L1262 243.9Z"/>
<path fill="#0070ff" d="M1050.4 221.5L1040.4 216.2L1045.1 211.6Z"/>
<path fill="#00ffaa" d="M1057.5 223L1052.6 212.8L1059.2 211.9ZM1066.7 223.1L1063.5 212.3L1070.1 212.3ZM1198.1 223.1L1194.5 212.4L1201.1 212.2ZM1258.4 223.1L1255.3 212.3L1261.9 212.3ZM1066.7 232.7L1063.6 221.8L1070.2 222ZM1077 232.7L1073.4 222L1080 221.8ZM1097.2 232.7L1093.6 222L1100.2 221.8ZM1107.1 232.7L1103.9 221.9L1110.5 221.9ZM1137.5 232.7L1134 222L1140.6 221.8ZM1157.7 232.7L1154.2 222L1160.8 221.8ZM1177.8 232.7L1174.4 221.9L1181 221.9ZM1197.8 232.7L1194.8 221.8L1201.4 222ZM1248.4 232.7L1245.1 221.9L1251.7 221.9ZM1268.6 232.7L1265.2 221.9L1271.8 221.9ZM1297.8 232.6L1296.7 221.4L1303.1 222.7Z"/>
<path fill="#ffe000" d="M1288.8 243L1285.4 232.2L1292 232.2ZM1177.8 256.5L1174.2 243.9L1181.2 243.9Z"/>
<path fill="#ff0000" d="M1052.1 253.2L1039.4 250.3L1042.7 244.1ZM1057.6 256.4L1052.3 244.5L1059.3 243.5ZM1066.6 256.5L1063.4 243.8L1070.4 244ZM1077 256.5L1073.2 244L1080.2 243.8ZM1087 256.5L1083.4 243.9L1090.4 243.9ZM1096.9 256.5L1093.7 243.8L1100.7 244ZM1107 256.5L1103.8 243.8L1110.8 244ZM1117.3 256.5L1113.7 243.9L1120.7 243.9ZM1127.3 256.5L1123.8 243.9L1130.8 243.9ZM1147.4 256.5L1144.1 243.8L1151.1 244ZM1157.4 256.5L1154.2 243.8L1161.2 244ZM1187.7 256.5L1184.5 243.8L1191.5 244ZM1198 256.5L1194.4 244L1201.4 243.8ZM1208 256.5L1204.6 243.9L1211.6 243.9ZM1218.1 256.5L1214.7 243.9L1221.7 243.9ZM1238.4 256.5L1234.7 243.9L1241.7 243.9ZM1248.3 256.5L1245 243.9L1252 243.9ZM1268.5 256.5L1265.1 243.9L1272.1 243.9ZM1278.7 256.5L1275.1 243.9L1282.1 243.9ZM1288.9 256.5L1285.1 244L1292.1 243.8ZM1297.6 256.4L1296.6 243.3L1303.5 244.7ZM1304.2 254.3L1311.4 243.4L1316 248.7Z"/>
<path fill="#ff7000" d="M1137.3 256.5L1134 243.9L1141 243.9ZM1228.3 256.5L1224.6 244L1231.6 243.8Z"/>
<rect x="1015.2" y="81.3" width="326.7" height="230.2" fill="none" stroke="#000" stroke-width="4" stroke-dasharray="2.8 8.2" stroke-linecap="round"/>
<rect x="1377.8" y="18.8" width="409.9" height="411.7" fill="#bdddcf" stroke="#3f9090" stroke-width="1.5"/>
<polygon points="1528.2,33 1636.8,33 1636.8,114.9 1664.6,114.9 1664.6,128.1 1500.7,128.1 1500.7,114.9 1528.2,114.9" fill="#c1c7a9" stroke="#9e8556" stroke-width="1.1" stroke-linejoin="round"/>
<polygon points="1500.7,155.5 1664.6,155.5 1664.6,169.6 1601.6,169.6 1601.6,279.7 1664.6,279.7 1664.6,293.4 1500.7,293.4 1500.7,279.7 1563.5,279.7 1563.5,169.6 1500.7,169.6" fill="#c1c7a9" stroke="#9e8556" stroke-width="1.1" stroke-linejoin="round"/>
<polygon points="1500.7,320.7 1664.6,320.7 1664.6,334.2 1636.8,334.2 1636.8,417.2 1528.2,417.2 1528.2,334.2 1500.7,334.2" fill="#c1c7a9" stroke="#9e8556" stroke-width="1.1" stroke-linejoin="round"/>
<path fill="#00e0ff" d="M1501.3 134.7L1497.6 129.1L1501.7 128ZM1663.9 134.7L1663.7 127.9L1667.7 129.1ZM1658.6 140.2L1656.3 133.8L1660.5 133.8ZM1501.2 145.5L1497.7 139.8L1501.8 138.8ZM1664 145.5L1663.6 138.8L1667.6 139.8ZM1501.3 312.2L1497.7 306.3L1501.7 305.3ZM1664 312.2L1663.6 305.3L1667.7 306.4ZM1664.1 321.8L1663.5 314.9L1667.6 315.9ZM1501.5 327.8L1497.5 322L1501.6 320.8Z"/>
<path fill="#38ff00" d="M1506.8 134.8L1504.8 128.4L1509 128.4ZM1513.1 134.8L1511 128.4L1515.2 128.4ZM1519.5 134.8L1517.3 128.4L1521.5 128.4ZM1525.8 134.8L1523.7 128.4L1527.9 128.4ZM1532.2 134.8L1529.9 128.5L1534.1 128.3ZM1538.4 134.8L1536.3 128.4L1540.5 128.4ZM1551 134.8L1549.1 128.3L1553.3 128.5ZM1563.7 134.8L1561.6 128.4L1565.8 128.4ZM1576.4 134.8L1574.1 128.5L1578.3 128.3ZM1582.7 134.8L1580.5 128.4L1584.7 128.4ZM1601.7 134.8L1599.5 128.4L1603.7 128.4ZM1633.2 134.8L1631.2 128.4L1635.4 128.4ZM1645.8 134.8L1643.8 128.4L1648 128.4ZM1658.5 134.8L1656.4 128.4L1660.6 128.4ZM1576.3 140.2L1574.3 133.8L1578.5 133.8ZM1501.4 155.3L1497.6 149.7L1501.6 148.5ZM1506.9 155.4L1504.7 149L1508.9 149ZM1513.2 155.4L1510.9 149.1L1515.1 148.9ZM1519.5 155.4L1517.4 149L1521.6 149ZM1525.8 155.4L1523.7 149L1527.9 149ZM1532.1 155.4L1530 149L1534.2 149ZM1551 155.4L1549.1 148.9L1553.2 149.1ZM1557.5 155.4L1555.2 149.1L1559.4 148.9ZM1563.7 155.4L1561.6 149L1565.8 149ZM1576.4 155.4L1574.2 149L1578.4 149ZM1582.7 155.4L1580.5 149.1L1584.7 148.9ZM1595.3 155.4L1593.2 149L1597.4 149ZM1601.7 155.4L1599.4 149.1L1603.6 148.9ZM1614.4 155.4L1612.1 149.1L1616.3 148.9ZM1626.9 155.4L1624.8 149L1629 149ZM1633.2 155.4L1631.1 149L1635.3 149ZM1639.4 155.4L1637.5 148.9L1641.7 149.1ZM1645.8 155.4L1643.8 149L1648 149ZM1652.2 155.4L1650.1 149L1654.3 149ZM1658.4 155.4L1656.5 149L1660.7 149ZM1664 155.3L1663.7 148.6L1667.7 149.7ZM1601.7 301L1599.3 293.6L1603.9 293.6ZM1501.3 306.8L1497.6 300.9L1501.7 299.9ZM1506.7 306.9L1504.8 300.3L1509 300.3ZM1513.2 306.9L1511 300.4L1515.2 300.2ZM1519.4 306.9L1517.4 300.3L1521.6 300.3ZM1525.8 306.9L1523.6 300.3L1527.8 300.3ZM1532.2 306.9L1529.9 300.3L1534.1 300.3ZM1538.5 306.9L1536.3 300.3L1540.5 300.3ZM1544.7 306.9L1542.7 300.3L1546.9 300.3ZM1563.8 306.9L1561.5 300.4L1565.7 300.2ZM1569.9 306.9L1568 300.3L1572.2 300.3ZM1589 306.9L1586.9 300.3L1591.1 300.3ZM1601.6 306.9L1599.5 300.3L1603.7 300.3ZM1607.9 306.9L1605.9 300.3L1610.1 300.3ZM1614.2 306.9L1612.2 300.3L1616.4 300.3ZM1620.5 306.9L1618.5 300.3L1622.7 300.3ZM1626.9 306.9L1624.8 300.3L1629 300.3ZM1633.3 306.9L1631 300.4L1635.2 300.2ZM1639.6 306.9L1637.3 300.4L1641.5 300.2ZM1645.9 306.9L1643.7 300.3L1647.9 300.3ZM1652.3 306.9L1650 300.4L1654.2 300.2ZM1557.5 312.3L1555.2 305.8L1559.4 305.7ZM1582.7 312.3L1580.5 305.8L1584.7 305.6ZM1525.7 321.9L1523.7 315.3L1527.9 315.3ZM1538.5 321.9L1536.2 315.4L1540.4 315.3ZM1607.9 321.9L1605.9 315.3L1610.1 315.3ZM1652.2 321.9L1650.1 315.3L1654.3 315.3ZM1513.2 327.9L1511 321.3L1515.2 321.3ZM1538.4 327.9L1536.3 321.3L1540.5 321.3ZM1544.8 327.9L1542.6 321.3L1546.8 321.3ZM1557.5 327.9L1555.2 321.4L1559.4 321.2ZM1563.6 327.9L1561.7 321.2L1565.9 321.4ZM1570 327.9L1567.9 321.3L1572.1 321.3ZM1589 327.9L1586.8 321.3L1591 321.3ZM1595.4 327.9L1593.1 321.4L1597.3 321.2ZM1601.6 327.9L1599.5 321.3L1603.7 321.3ZM1626.9 327.9L1624.8 321.3L1629 321.3ZM1639.6 327.9L1637.3 321.4L1641.5 321.2ZM1652.3 327.9L1650 321.3L1654.2 321.3Z"/>
<path fill="#00ff38" d="M1544.6 134.8L1542.8 128.3L1546.9 128.5ZM1570.1 134.8L1567.9 128.4L1572.1 128.4ZM1607.9 134.8L1605.9 128.4L1610.1 128.4ZM1620.5 134.8L1618.5 128.4L1622.7 128.4ZM1513 140.2L1511.1 133.7L1515.3 133.9ZM1519.4 140.2L1517.4 133.8L1521.6 133.8ZM1525.8 140.2L1523.7 133.8L1527.9 133.8ZM1532.2 140.2L1529.9 133.9L1534.1 133.7ZM1538.4 140.2L1536.3 133.8L1540.5 133.8ZM1544.8 140.2L1542.6 133.8L1546.8 133.8ZM1551 140.2L1549 133.8L1553.2 133.8ZM1557.4 140.2L1555.3 133.8L1559.5 133.8ZM1563.6 140.2L1561.7 133.8L1565.9 133.8ZM1570 140.2L1568 133.8L1572.2 133.8ZM1582.7 140.2L1580.5 133.8L1584.7 133.8ZM1588.9 140.2L1586.9 133.8L1591.1 133.8ZM1595.2 140.2L1593.3 133.8L1597.5 133.8ZM1601.5 140.2L1599.6 133.8L1603.8 133.8ZM1608 140.2L1605.8 133.8L1610 133.8ZM1614.2 140.2L1612.2 133.8L1616.4 133.9ZM1626.9 140.2L1624.8 133.8L1629 133.8ZM1633.1 140.2L1631.2 133.7L1635.4 133.9ZM1639.4 140.2L1637.5 133.7L1641.7 133.9ZM1645.9 140.2L1643.8 133.8L1648 133.8ZM1652.2 140.2L1650.1 133.8L1654.3 133.8ZM1519.4 145.6L1517.4 139.2L1521.6 139.2ZM1544.7 145.6L1542.7 139.2L1546.9 139.2ZM1551 145.6L1549 139.2L1553.2 139.2ZM1557.4 145.6L1555.3 139.2L1559.5 139.2ZM1563.7 145.6L1561.6 139.2L1565.8 139.2ZM1576.3 145.6L1574.3 139.2L1578.5 139.2ZM1582.6 145.6L1580.6 139.2L1584.8 139.2ZM1595.4 145.6L1593.1 139.3L1597.3 139.2ZM1614.3 145.6L1612.1 139.2L1616.3 139.2ZM1633.3 145.6L1631 139.3L1635.2 139.1ZM1570.1 155.4L1567.9 149L1572.1 149ZM1588.9 155.4L1587 149L1591.2 149ZM1557.4 306.9L1555.3 300.3L1559.5 300.3ZM1658.4 306.9L1656.5 300.2L1660.7 300.4ZM1506.9 312.3L1504.6 305.8L1508.8 305.6ZM1513.1 312.3L1511 305.7L1515.2 305.7ZM1519.4 312.3L1517.5 305.6L1521.6 305.8ZM1532.1 312.3L1530 305.7L1534.2 305.7ZM1538.4 312.3L1536.3 305.7L1540.5 305.7ZM1544.8 312.3L1542.5 305.8L1546.7 305.6ZM1551.1 312.3L1548.9 305.8L1553.1 305.7ZM1563.7 312.3L1561.6 305.7L1565.8 305.7ZM1570 312.3L1567.9 305.7L1572.1 305.7ZM1589 312.3L1586.8 305.7L1591 305.7ZM1595.4 312.3L1593.1 305.7L1597.3 305.7ZM1601.7 312.3L1599.4 305.8L1603.6 305.7ZM1608 312.3L1605.8 305.7L1610 305.7ZM1614.3 312.3L1612.1 305.7L1616.3 305.7ZM1620.6 312.3L1618.5 305.7L1622.7 305.7ZM1627 312.3L1624.7 305.8L1628.9 305.6ZM1633.1 312.3L1631.2 305.6L1635.4 305.8ZM1639.6 312.3L1637.4 305.7L1641.6 305.7ZM1645.8 312.3L1643.9 305.6L1648.1 305.8ZM1652.1 312.3L1650.1 305.7L1654.3 305.7ZM1658.5 312.3L1656.4 305.7L1660.6 305.7ZM1513.1 321.9L1511.1 315.3L1515.3 315.3ZM1519.5 321.9L1517.3 315.3L1521.5 315.3ZM1532 321.9L1530.1 315.3L1534.3 315.3ZM1544.8 321.9L1542.6 315.3L1546.8 315.3ZM1551.2 321.9L1548.9 315.4L1553 315.2ZM1557.4 321.9L1555.2 315.3L1559.4 315.3ZM1563.8 321.9L1561.5 315.4L1565.7 315.2ZM1570 321.9L1567.9 315.3L1572.1 315.3ZM1576.2 321.9L1574.4 315.2L1578.5 315.4ZM1595.3 321.9L1593.2 315.3L1597.4 315.3ZM1601.7 321.9L1599.5 315.3L1603.7 315.3ZM1614.2 321.9L1612.2 315.3L1616.4 315.3ZM1620.7 321.9L1618.4 315.4L1622.6 315.3ZM1627 321.9L1624.7 315.3L1628.9 315.3ZM1645.8 321.9L1643.8 315.3L1648 315.3ZM1658.4 321.9L1656.5 315.2L1660.7 315.4ZM1506.8 327.9L1504.8 321.3L1509 321.3ZM1519.6 327.9L1517.3 321.4L1521.5 321.2ZM1525.8 327.9L1523.7 321.3L1527.9 321.3ZM1532 327.9L1530.1 321.2L1534.3 321.4ZM1608 327.9L1605.7 321.4L1609.9 321.2ZM1645.8 327.9L1643.9 321.2L1648.1 321.4Z"/>
<path fill="#aaff00" d="M1557.4 134.8L1555.3 128.4L1559.5 128.4ZM1588.9 134.8L1586.9 128.4L1591.1 128.4ZM1595.2 134.8L1593.3 128.3L1597.5 128.5ZM1614.2 134.8L1612.2 128.4L1616.4 128.4ZM1626.9 134.8L1624.8 128.4L1629 128.4ZM1639.6 134.8L1637.4 128.4L1641.6 128.4ZM1652.2 134.8L1650 128.4L1654.2 128.4ZM1538.4 155.4L1536.3 149L1540.5 149ZM1544.8 155.4L1542.6 149L1546.8 149ZM1607.9 155.4L1605.9 149L1610.1 149ZM1620.6 155.4L1618.5 149L1622.7 149ZM1576.3 161.3L1574.1 153.9L1578.7 153.9ZM1633.3 161.3L1630.9 153.9L1635.5 153.9ZM1501.5 300.9L1497.3 294.3L1501.8 293.1ZM1525.7 301L1523.5 293.6L1528.1 293.6ZM1563.8 301L1561.3 293.7L1565.9 293.5ZM1551.1 306.9L1548.9 300.3L1553.1 300.3ZM1576.3 306.9L1574.3 300.3L1578.5 300.3ZM1582.6 306.9L1580.6 300.3L1584.8 300.3ZM1595.2 306.9L1593.3 300.2L1597.5 300.4ZM1576.2 327.9L1574.3 321.2L1578.5 321.4ZM1614.3 327.9L1612.1 321.3L1616.3 321.3ZM1658.5 327.9L1656.4 321.3L1660.6 321.3Z"/>
<path fill="#0070ff" d="M1501.3 140.1L1497.7 134.4L1501.7 133.4ZM1663.9 140.1L1663.7 133.3L1667.7 134.5ZM1501.3 321.8L1497.7 315.9L1501.8 314.9ZM1664 327.8L1663.6 320.9L1667.7 321.9Z"/>
<path fill="#00ffaa" d="M1506.9 140.2L1504.7 133.8L1508.9 133.8ZM1620.5 140.2L1618.6 133.7L1622.8 133.9ZM1506.8 145.6L1504.7 139.2L1508.9 139.2ZM1513.1 145.6L1511.1 139.2L1515.3 139.2ZM1525.7 145.6L1523.7 139.2L1527.9 139.2ZM1532.2 145.6L1529.9 139.2L1534.1 139.2ZM1538.4 145.6L1536.4 139.2L1540.6 139.2ZM1570 145.6L1568 139.2L1572.2 139.2ZM1589.1 145.6L1586.8 139.3L1591 139.1ZM1601.6 145.6L1599.5 139.2L1603.7 139.2ZM1607.9 145.6L1605.9 139.2L1610.1 139.2ZM1620.5 145.6L1618.5 139.2L1622.7 139.2ZM1626.9 145.6L1624.8 139.2L1629 139.2ZM1639.5 145.6L1637.4 139.2L1641.6 139.2ZM1645.9 145.6L1643.7 139.2L1647.9 139.2ZM1652.3 145.6L1650 139.3L1654.2 139.1ZM1658.6 145.6L1656.3 139.3L1660.5 139.1ZM1525.8 312.3L1523.7 305.7L1527.9 305.7ZM1576.3 312.3L1574.3 305.6L1578.5 305.8ZM1506.9 321.9L1504.6 315.4L1508.8 315.2ZM1582.7 321.9L1580.5 315.3L1584.7 315.3ZM1589 321.9L1586.8 315.3L1591 315.3ZM1633.2 321.9L1631.2 315.3L1635.4 315.3ZM1639.4 321.9L1637.5 315.2L1641.7 315.4Z"/>
<path fill="#ff0000" d="M1501.5 161.2L1497.3 154.7L1501.7 153.4ZM1506.9 161.3L1504.4 154L1509 153.8ZM1513.1 161.3L1510.9 153.9L1515.5 153.9ZM1519.4 161.3L1517.2 153.9L1521.8 153.9ZM1525.7 161.3L1523.6 153.8L1528.2 154ZM1532 161.3L1529.9 153.8L1534.5 154ZM1538.4 161.3L1536.1 153.9L1540.7 153.9ZM1544.8 161.3L1542.4 153.9L1547 153.9ZM1551 161.3L1548.9 153.8L1553.5 154ZM1563.8 161.3L1561.3 154L1565.9 153.8ZM1570 161.3L1567.7 153.9L1572.3 153.9ZM1588.9 161.3L1586.7 153.9L1591.3 153.9ZM1595.2 161.3L1593.1 153.8L1597.7 154ZM1601.7 161.3L1599.3 153.9L1603.9 153.9ZM1608 161.3L1605.6 153.9L1610.2 153.9ZM1620.6 161.3L1618.2 153.9L1622.8 153.9ZM1626.8 161.3L1624.7 153.8L1629.3 154ZM1639.4 161.3L1637.4 153.8L1642 154ZM1645.8 161.3L1643.7 153.8L1648.3 154ZM1658.6 161.3L1656.1 153.9L1660.7 153.9ZM1663.7 161.1L1663.7 153.4L1668.1 154.7ZM1506.9 301L1504.4 293.7L1509 293.5ZM1513.2 301L1510.8 293.6L1515.4 293.6ZM1519.5 301L1517.1 293.6L1521.7 293.6ZM1532.2 301L1529.7 293.7L1534.3 293.5ZM1544.7 301L1542.5 293.6L1547.1 293.6ZM1551.2 301L1548.7 293.7L1553.3 293.5ZM1557.3 301L1555.1 293.6L1559.7 293.6ZM1570.1 301L1567.6 293.7L1572.2 293.5ZM1576.3 301L1574.1 293.6L1578.7 293.6ZM1582.7 301L1580.3 293.6L1584.9 293.6ZM1595.3 301L1593 293.6L1597.6 293.6ZM1607.9 301L1605.7 293.6L1610.3 293.6ZM1614.4 301L1611.8 293.7L1616.4 293.5ZM1627 301L1624.5 293.7L1629.1 293.5ZM1633.3 301L1630.8 293.7L1635.4 293.5ZM1639.4 301L1637.4 293.5L1642 293.7ZM1645.8 301L1643.6 293.6L1648.2 293.6ZM1652.3 301L1649.8 293.6L1654.4 293.6ZM1658.6 301L1656.1 293.7L1660.7 293.5ZM1663.7 300.8L1663.7 293.1L1668.1 294.4Z"/>
<path fill="#ff7000" d="M1557.5 161.3L1555 154L1559.5 153.8ZM1614.3 161.3L1611.9 153.9L1616.5 153.9ZM1538.4 301L1536.2 293.6L1540.8 293.6ZM1588.9 301L1586.8 293.5L1591.4 293.7ZM1620.5 301L1618.3 293.6L1622.9 293.6ZM1664 306.8L1663.6 299.9L1667.7 301Z"/>
<path fill="#ffe000" d="M1582.8 161.3L1580.3 154L1584.9 153.8ZM1652.2 161.3L1649.9 153.9L1654.5 153.9ZM1551.2 327.9L1548.9 321.4L1553.1 321.2ZM1582.8 327.9L1580.5 321.4L1584.7 321.2ZM1620.6 327.9L1618.5 321.3L1622.7 321.3ZM1633.3 327.9L1631 321.4L1635.2 321.2Z"/>
<line x1="1680.3" y1="146.8" x2="1483.5" y2="146.8" stroke="#ff0000" stroke-width="6" stroke-linecap="round"/>
<polygon points="1474,146.8 1483.5,137.1 1483.5,156.6" fill="#ff0000"/>
<line x1="1680.3" y1="313.2" x2="1483.5" y2="313.2" stroke="#ff0000" stroke-width="6" stroke-linecap="round"/>
<polygon points="1474,313.2 1483.5,303.4 1483.5,322.9" fill="#ff0000"/>
<rect x="1472.8" y="31" width="217.2" height="181.4" fill="none" stroke="#000" stroke-width="4" stroke-dasharray="2.8 8.2" stroke-linecap="round"/>
<line x1="1341.9" y1="81.3" x2="1472.8" y2="31" stroke="#000" stroke-width="4" stroke-dasharray="2.8 8.2" stroke-linecap="round"/>
<line x1="1341.9" y1="311.5" x2="1472.8" y2="212.4" stroke="#000" stroke-width="4" stroke-dasharray="2.8 8.2" stroke-linecap="round"/>
<text x="1718.5" y="157.5" font-size="37" fill="#0000ff">M2</text>
<text x="1718.5" y="327.5" font-size="37" fill="#0000ff">M1</text>
<rect x="1840.8" y="56.8" width="31.2" height="35.9" fill="#ff0000"/>
<rect x="1840.8" y="92.2" width="31.2" height="35.9" fill="#ff7000"/>
<rect x="1840.8" y="127.6" width="31.2" height="35.9" fill="#ffe000"/>
<rect x="1840.8" y="163" width="31.2" height="35.9" fill="#aaff00"/>
<rect x="1840.8" y="198.4" width="31.2" height="35.9" fill="#38ff00"/>
<rect x="1840.8" y="233.8" width="31.2" height="35.9" fill="#00ff38"/>
<rect x="1840.8" y="269.2" width="31.2" height="35.9" fill="#00ffaa"/>
<rect x="1840.8" y="304.6" width="31.2" height="35.9" fill="#00e0ff"/>
<rect x="1840.8" y="340" width="31.2" height="35.9" fill="#0070ff"/>
<rect x="1840.8" y="375.4" width="31.2" height="35.4" fill="#0000ff"/>
<text x="1805.5" y="31.5" font-size="33.4" fill="#000" font-weight="bold">E Field [V/m]</text>
<text x="1881" y="74" font-size="33" fill="#000">3000</text>
<text x="1880" y="237.2" font-size="33" fill="#000">1500</text>
<text x="1891.8" y="416.5" font-size="33" fill="#000">0</text>
<use href="#amain" transform="translate(1512 496.4) scale(1.0127 1.0166) translate(-382 -12)"/>
<rect x="155.4" y="497" width="421.1" height="420.4" fill="#bdddcf" stroke="#3f9090" stroke-width="1.5"/>
<polygon points="281.5,511 449.7,511 449.7,609.5 281.5,609.5" fill="#bccfbb" stroke="#8b6b35" stroke-width="1.4" stroke-linejoin="round"/>
<polygon points="281.5,637.8 449.7,637.8 449.7,777.8 281.5,777.8" fill="#bccfbb" stroke="#8b6b35" stroke-width="1.4" stroke-linejoin="round"/>
<polygon points="281.5,805.6 449.7,805.6 449.7,903.2 281.5,903.2" fill="#bccfbb" stroke="#8b6b35" stroke-width="1.4" stroke-linejoin="round"/>
<path fill="#00e0ff" d="M281.5 512.7L285.5 526.3L277.5 526.3ZM449.6 512.7L453.4 526.3L445.4 526.3ZM435.7 526.3L439.3 540L431.3 539.8ZM449.7 526.3L453.3 540L445.3 539.8ZM449.3 539.9L453.7 553.4L445.7 553.6ZM295.7 567.1L299.3 580.8L291.3 580.6ZM449.4 580.7L453.6 594.2L445.6 594.4ZM273.6 595.1L284.7 603.9L278.1 608.5ZM295.5 645.4L299.5 659L291.5 659ZM435.4 645.4L439.6 659L431.6 659ZM295.2 659.1L299.8 672.5L291.8 672.9ZM309.6 659.1L313.4 672.7L305.4 672.7ZM323.5 659.1L327.5 672.7L319.5 672.7ZM351.4 659.1L355.6 672.7L347.6 672.7ZM421.4 659.1L425.6 672.6L417.6 672.8ZM295.3 672.8L299.7 686.3L291.7 686.5ZM309.8 672.8L313.2 686.6L305.2 686.2ZM323.7 672.8L327.3 686.5L319.3 686.3ZM393.7 672.8L397.3 686.5L389.3 686.3ZM407.5 672.8L411.5 686.4L403.5 686.4ZM421.2 672.8L425.8 686.2L417.8 686.6ZM435.3 672.8L439.7 686.3L431.7 686.5ZM309.3 686.5L313.7 700L305.7 700.2ZM323.7 686.5L327.3 700.2L319.3 700ZM337.4 686.5L341.6 700L333.6 700.2ZM351.6 686.5L355.4 700.2L347.4 700ZM365.8 686.5L369.2 700.2L361.2 699.9ZM379.6 686.5L383.4 700.2L375.4 700ZM393.7 686.5L397.3 700.2L389.3 700ZM407.4 686.5L411.6 700L403.6 700.2ZM421.2 686.5L425.8 699.9L417.9 700.3ZM435.5 686.5L439.5 700.1L431.5 700.1ZM295.4 700.2L299.6 713.8L291.6 713.8ZM309.4 700.2L313.6 713.7L305.6 713.9ZM323.2 700.2L327.8 713.6L319.8 714ZM337.4 700.2L341.6 713.7L333.6 713.9ZM365.5 700.2L369.5 713.8L361.5 713.8ZM379.6 700.2L383.4 713.9L375.4 713.7ZM393.4 700.2L397.6 713.8L389.6 713.8ZM407.8 700.2L411.2 714L403.2 713.6ZM421.7 700.2L425.3 713.9L417.3 713.7ZM435.8 700.2L439.2 714L431.2 713.6ZM295.5 713.9L299.5 727.5L291.5 727.5ZM309.7 713.9L313.3 727.6L305.3 727.4ZM337.6 713.9L341.4 727.5L333.4 727.5ZM365.5 713.9L369.5 727.5L361.5 727.5ZM379.3 713.9L383.7 727.4L375.7 727.6ZM393.2 713.9L397.8 727.3L389.8 727.7ZM407.2 713.9L411.8 727.3L403.8 727.7ZM421.4 713.9L425.6 727.4L417.6 727.6ZM435.6 713.9L439.4 727.5L431.4 727.5ZM309.8 727.6L313.2 741.4L305.2 741ZM337.7 727.6L341.3 741.3L333.3 741.1ZM393.8 727.6L397.2 741.4L389.2 741ZM407.8 727.6L411.2 741.4L403.2 741ZM421.6 727.6L425.4 741.3L417.4 741.1ZM435.7 727.6L439.3 741.3L431.3 741.1ZM281.4 820.8L285.6 834.4L277.6 834.4ZM295.5 820.8L299.5 834.4L291.5 834.4ZM449.3 820.8L453.7 834.3L445.7 834.5ZM295.6 834.4L299.4 848L291.4 848ZM449.8 834.4L453.2 848.2L445.2 847.8ZM295.6 848L299.4 861.7L291.4 861.5ZM281.7 861.6L285.3 875.3L277.3 875.1ZM435.4 861.6L439.6 875.1L431.6 875.3ZM281.6 875.2L285.4 888.9L277.4 888.7ZM435.8 875.2L439.2 889L431.2 888.6ZM449.8 875.2L453.2 889L445.2 888.6ZM288.8 797.1L284.3 810.5L277.7 805.9ZM323.1 808L309.9 813.2L309.2 805.2ZM450.6 890.2L454.6 903.8L446.6 903.8Z"/>
<path fill="#0070ff" d="M296.2 512.7L298.8 526.7L290.9 525.9ZM310.3 512.7L312.7 526.7L304.7 525.8ZM323.8 512.7L327.2 526.5L319.2 526.1ZM337.9 512.7L341.1 526.5L333.1 526.1ZM351.8 512.7L355.2 526.5L347.2 526.1ZM365.6 512.7L369.4 526.3L361.4 526.3ZM379.8 512.7L383.2 526.4L375.2 526.1ZM392.9 512.7L398 525.9L390.1 526.6ZM404.3 513.5L414.2 523.6L407.1 527.4ZM420.6 512.8L426.4 525.7L418.5 526.8ZM434.5 512.8L440.4 525.7L432.5 526.8ZM295.6 526.3L299.4 540L291.4 539.8ZM309.7 526.3L313.3 540L305.3 539.8ZM323.8 526.3L327.2 540.1L319.2 539.7ZM337.4 526.3L341.6 539.8L333.6 540ZM351.5 526.3L355.5 539.9L347.5 539.9ZM365.7 526.3L369.3 540L361.3 539.8ZM379.3 526.3L383.7 539.8L375.7 540ZM393.2 526.3L397.8 539.7L389.8 540.1ZM407.4 526.3L411.6 539.8L403.6 540ZM421.2 526.3L425.8 539.7L417.8 540.1ZM295.2 539.9L299.8 553.3L291.8 553.6ZM309.2 539.9L313.8 553.3L305.8 553.7ZM323.3 539.9L327.7 553.4L319.7 553.6ZM337.2 539.9L341.8 553.3L333.8 553.7ZM351.4 539.9L355.6 553.5L347.6 553.5ZM365.6 539.9L369.4 553.5L361.4 553.5ZM379.3 539.9L383.7 553.4L375.7 553.6ZM393.2 539.9L397.8 553.3L389.8 553.7ZM407.6 539.9L411.4 553.6L403.4 553.4ZM421.2 539.9L425.8 553.3L417.8 553.7ZM435.3 539.9L439.7 553.4L431.7 553.6ZM295.2 553.5L299.8 566.9L291.8 567.3ZM309.4 553.5L313.6 567.1L305.6 567.1ZM323.4 553.5L327.6 567L319.6 567.2ZM337.7 553.5L341.3 567.2L333.3 567ZM351.5 553.5L355.5 567.1L347.5 567.1ZM365.8 553.5L369.2 567.3L361.2 566.9ZM379.6 553.5L383.4 567.2L375.4 567ZM393.7 553.5L397.3 567.2L389.3 567ZM407.6 553.5L411.4 567.1L403.4 567.1ZM421.5 553.5L425.5 567.1L417.5 567.1ZM309.6 567.1L313.4 580.8L305.4 580.6ZM323.3 567.1L327.7 580.6L319.7 580.8ZM337.7 567.1L341.3 580.8L333.3 580.6ZM351.4 567.1L355.6 580.7L347.6 580.7ZM365.2 567.1L369.8 580.5L361.8 580.8ZM379.2 567.1L383.8 580.5L375.8 580.9ZM393.3 567.1L397.7 580.6L389.7 580.8ZM407.3 567.1L411.7 580.6L403.7 580.8ZM421.6 567.1L425.4 580.8L417.4 580.6ZM435.3 567.1L439.7 580.6L431.7 580.8ZM295.5 580.7L299.5 594.3L291.5 594.3ZM309.2 580.7L313.8 594.1L305.8 594.5ZM323.2 580.7L327.8 594.1L319.8 594.5ZM337.2 580.7L341.8 594.1L333.8 594.4ZM351.4 580.7L355.6 594.2L347.6 594.4ZM365.8 580.7L369.2 594.4L361.2 594.1ZM379.8 580.7L383.2 594.5L375.2 594.1ZM393.6 580.7L397.4 594.3L389.4 594.3ZM407.3 580.7L411.7 594.2L403.7 594.4ZM421.4 580.7L425.6 594.3L417.6 594.3ZM435.4 580.7L439.6 594.2L431.6 594.4ZM308.6 507.8L295.9 514.1L294.5 506.2ZM322.1 508.8L308.9 514L308.2 506ZM335.6 508.8L322.4 514L321.7 506ZM408.2 505.6L422.3 506.5L419.6 514ZM427.6 499.4L438.7 508.2L432.1 512.8ZM438.1 504.5L451.9 507.9L447.9 514.8ZM284.2 600.6L297.8 604.4L293.6 611.2ZM301.2 595.2L311.1 605.3L304.1 609ZM312.5 602.3L326.6 603.2L323.9 610.7ZM335.6 592.5L341.9 605.2L334 606.6ZM394.9 592.9L398.4 606.6L390.4 606.3ZM417.4 596.4L410.6 608.8L404.9 603.1ZM431.3 596.1L424.6 608.5L418.9 602.8ZM448.5 602.6L436.8 610.6L434.3 603ZM456 593.9L454.6 608L447.2 605ZM297.3 631.9L297.5 646.1L289.8 644ZM311.8 632.1L310.9 646.3L303.4 643.5ZM325.4 632L325.4 646.2L317.7 643.9ZM338.6 631.8L340.3 645.9L332.4 644.5ZM365.3 631.7L369.7 645.2L361.7 645.4ZM406 631.9L412.9 644.3L405 646ZM419.9 631.9L427 644.2L419.2 646ZM433.8 631.9L441.1 644.1L433.3 646.1ZM309.5 645.4L313.5 659L305.5 659ZM323.5 645.4L327.5 659L319.5 659ZM337.7 645.4L341.3 659.1L333.3 658.9ZM351.8 645.4L355.2 659.2L347.2 658.8ZM365.5 645.4L369.5 659L361.5 659ZM379.8 645.4L383.2 659.2L375.2 658.8ZM393.6 645.4L397.4 659L389.4 659ZM407.2 645.4L411.8 658.8L403.8 659.2ZM421.7 645.4L425.3 659.1L417.3 658.9ZM337.8 659.1L341.2 672.9L333.2 672.5ZM365.3 659.1L369.7 672.6L361.7 672.8ZM379.3 659.1L383.7 672.6L375.7 672.8ZM393.3 659.1L397.7 672.6L389.7 672.8ZM407.5 659.1L411.5 672.7L403.5 672.7ZM337.7 672.8L341.2 686.5L333.3 686.2ZM351.6 672.8L355.4 686.4L347.4 686.3ZM365.4 672.8L369.6 686.4L361.6 686.4ZM379.2 672.8L383.8 686.2L375.8 686.5ZM351.4 700.2L355.6 713.8L347.6 713.8ZM323.4 713.9L327.6 727.4L319.6 727.6ZM351.6 713.9L355.4 727.6L347.4 727.4ZM295.4 727.6L299.6 741.1L291.6 741.3ZM323.3 727.6L327.7 741.1L319.7 741.3ZM351.2 727.6L355.8 741L347.8 741.4ZM365.7 727.6L369.3 741.3L361.3 741.1ZM379.6 727.6L383.4 741.3L375.4 741.1ZM309.5 741.3L313.5 754.9L305.5 754.9ZM323.8 741.3L327.2 755.1L319.2 754.7ZM337.3 741.3L341.7 754.8L333.7 755ZM351.8 741.3L355.2 755.1L347.2 754.7ZM365.5 741.3L369.5 754.9L361.5 754.9ZM379.4 741.3L383.6 754.9L375.6 754.9ZM393.1 741.3L397.8 754.7L389.9 755.1ZM407.4 741.3L411.6 754.9L403.6 754.9ZM421.3 741.3L425.7 754.8L417.7 755ZM435.6 741.3L439.4 755L431.4 754.8ZM309.2 755L313.8 768.4L305.8 768.8ZM323.1 755L327.9 768.3L319.9 768.8ZM351.2 755L355.8 768.4L347.8 768.8ZM365.6 755L369.4 768.7L361.4 768.5ZM379.5 755L383.5 768.6L375.5 768.6ZM394.6 755.1L396.3 769.2L388.5 767.9ZM408.8 755.1L410.1 769.2L402.3 767.7ZM422.4 755.1L424.6 769.1L416.7 768ZM435.9 755L439.1 768.8L431.1 768.4ZM285.6 761.1L298.7 766.3L293.8 772.6ZM295.6 807.2L299.4 820.9L291.4 820.7ZM309.8 807.2L313.2 821L305.2 820.6ZM323.3 807.2L327.7 820.7L319.7 820.9ZM337.6 807.2L341.4 820.9L333.4 820.7ZM351.7 807.2L355.3 820.9L347.3 820.7ZM365.3 807.2L369.7 820.7L361.7 820.9ZM379.2 807.2L383.8 820.6L375.8 821ZM393.5 807.2L397.5 820.8L389.5 820.8ZM407.7 807.2L411.3 820.9L403.3 820.7ZM421.8 807.2L425.2 821L417.2 820.6ZM435.7 807.2L439.3 820.9L431.3 820.7ZM309.8 820.8L313.2 834.6L305.2 834.2ZM323.4 820.8L327.6 834.3L319.6 834.5ZM337.3 820.8L341.7 834.3L333.7 834.5ZM351.6 820.8L355.4 834.4L347.4 834.4ZM365.8 820.8L369.2 834.6L361.2 834.2ZM379.3 820.8L383.7 834.3L375.7 834.5ZM393.2 820.8L397.8 834.2L389.8 834.6ZM407.2 820.8L411.8 834.2L403.8 834.6ZM421.5 820.8L425.5 834.4L417.5 834.4ZM435.6 820.8L439.4 834.4L431.4 834.4ZM309.6 834.4L313.4 848.1L305.4 847.9ZM323.6 834.4L327.4 848.1L319.4 847.9ZM337.7 834.4L341.3 848.1L333.3 847.9ZM351.2 834.4L355.8 847.8L347.8 848.2ZM365.5 834.4L369.5 848L361.5 848ZM379.7 834.4L383.3 848.1L375.3 847.9ZM393.8 834.4L397.2 848.2L389.2 847.8ZM407.4 834.4L411.6 847.9L403.6 848.1ZM421.7 834.4L425.2 848.1L417.3 847.8ZM435.6 834.4L439.4 848.1L431.4 847.9ZM309.7 848L313.3 861.7L305.3 861.5ZM323.5 848L327.5 861.6L319.5 861.6ZM337.2 848L341.8 861.4L333.8 861.8ZM351.3 848L355.7 861.5L347.7 861.7ZM365.3 848L369.7 861.5L361.7 861.7ZM379.2 848L383.8 861.4L375.8 861.8ZM393.3 848L397.7 861.4L389.8 861.7ZM407.6 848L411.4 861.6L403.4 861.6ZM421.2 848L425.8 861.4L417.8 861.8ZM295.7 861.6L299.3 875.3L291.3 875.1ZM309.7 861.6L313.3 875.3L305.3 875.1ZM323.8 861.6L327.2 875.4L319.2 875ZM337.8 861.6L341.2 875.4L333.2 875ZM351.6 861.6L355.4 875.3L347.4 875.1ZM365.8 861.6L369.2 875.4L361.2 875ZM379.2 861.6L383.8 875L375.8 875.4ZM393.2 861.6L397.8 875L389.8 875.4ZM407.2 861.6L411.8 875L403.8 875.4ZM421.3 861.6L425.7 875.1L417.7 875.3ZM295.7 875.2L299.3 888.9L291.3 888.7ZM309.2 875.2L313.8 888.6L305.8 889ZM323.4 875.2L327.6 888.8L319.6 888.8ZM337.5 875.2L341.5 888.8L333.5 888.8ZM351.4 875.2L355.6 888.7L347.6 888.9ZM365.2 875.2L369.8 888.6L361.8 889ZM379.6 875.2L383.4 888.8L375.4 888.8ZM407.6 875.2L411.4 888.9L403.4 888.7ZM421.5 875.2L425.5 888.8L417.5 888.8ZM306 806.8L293.3 813.1L291.9 805.3ZM332.1 798L326.4 811L320.3 805.9ZM385.5 805.9L399.6 804.4L398.2 812.2ZM399 805.9L413.1 804.4L411.7 812.2ZM413.8 797.7L424.8 806.5L418.3 811.1ZM427.7 797.3L438 807.1L431.1 811.1ZM439.4 799.8L452.4 805.4L447.3 811.6ZM269.4 897.5L283.2 900.9L279.2 907.8ZM286.6 895.7L299.6 901.3L294.4 907.5ZM300.1 896.6L313.1 902.2L307.9 908.4ZM393 900.9L407.1 899.4L405.7 907.2ZM418.2 900.4L406.1 907.7L404.1 900ZM431.7 900.4L419.6 907.7L417.5 900ZM444.5 897.5L434.7 907.8L430.7 900.9Z"/>
<path fill="#00ffaa" d="M281.4 526.3L285.6 539.8L277.6 540ZM435.7 553.5L439.3 567.2L431.3 567ZM281.5 497.7L285.5 511.3L277.5 511.3ZM435.7 659.1L439.3 672.8L431.3 672.6ZM295.8 686.5L299.2 700.3L291.2 699.9ZM281.3 700.2L285.7 713.7L277.7 713.9ZM295.3 741.3L299.7 754.8L291.7 755ZM449.8 741.3L453.2 755.1L445.2 754.7ZM281.8 755L285.2 768.8L277.2 768.4ZM281.3 807.2L285.7 820.7L277.7 820.9ZM449.4 807.2L453.6 820.8L445.6 820.8Z"/>
<path fill="#38ff00" d="M281.4 539.9L285.6 553.4L277.6 553.6ZM281.4 553.5L285.6 567L277.6 567.2ZM449.6 553.5L453.4 567.2L445.4 567ZM281.8 567.1L285.2 580.9L277.2 580.5ZM449.2 567.1L453.8 580.5L445.8 580.9ZM281.7 580.7L285.3 594.4L277.3 594.2ZM281.2 631.7L285.8 645.1L277.9 645.5ZM449.4 631.7L453.6 645.2L445.6 645.4ZM281.8 645.4L285.2 659.2L277.2 658.8ZM449.2 645.4L453.8 658.8L445.8 659.2ZM449.3 659.1L453.7 672.6L445.7 672.8ZM281.6 741.3L285.4 754.9L277.4 754.9ZM449.4 755L453.6 768.5L445.6 768.7ZM281.3 848L285.7 861.5L277.7 861.7ZM435.7 848L439.3 861.7L431.3 861.5ZM449.7 848L453.3 861.7L445.3 861.5ZM449.5 861.6L453.5 875.2L445.5 875.2Z"/>
<path fill="#0000ff" d="M349.1 510L335.2 512.8L335.9 504.9ZM356.1 497.8L354 511.8L346.8 508.4ZM370.6 498.1L367.3 511.8L360.3 507.8ZM371.1 504.5L384.5 509.1L380 515.6ZM386.9 498.5L396.9 508.6L389.8 512.3ZM397.2 503.3L410.4 508.5L405.5 514.8ZM343.4 595.6L354.4 604.4L347.9 609ZM365.7 592.9L369.7 606.5L361.7 606.5ZM390.6 597L383.4 609.2L378 603.4ZM352.1 631.7L354.9 645.6L346.9 644.9ZM377.9 631.9L385 644.2L377.2 646.1ZM389.3 633.2L400.9 641.4L394.6 646.3ZM330.4 757.7L341.5 766.5L334.9 771.1ZM393.4 875.2L397.6 888.7L389.6 888.9ZM347.3 798.9L339.5 810.7L334.4 804.5ZM354.4 794.4L356 808.5L348.1 807.1ZM366.1 793.4L370.1 807L362.1 807ZM377.5 794.4L383.8 807.1L375.9 808.5ZM314.7 897L328.1 901.5L323.5 908.1ZM327.9 897.5L341.6 900.9L337.6 907.8ZM348.5 890.5L355.8 902.6L348.1 904.6ZM366.1 890.2L370.1 903.8L362.1 903.8ZM381.4 890.3L383 904.4L375.1 903Z"/>
<path fill="#aaff00" d="M281.8 659.1L285.2 672.9L277.2 672.5ZM281.6 713.9L285.4 727.6L277.4 727.4ZM449.7 713.9L453.3 727.6L445.3 727.4ZM281.7 727.6L285.3 741.3L277.3 741.1Z"/>
<path fill="#ffe000" d="M281.4 672.8L285.6 686.3L277.6 686.5ZM449.2 672.8L453.8 686.2L445.8 686.6ZM449.6 686.5L453.4 700.1L445.4 700.1ZM449.6 700.2L453.4 713.9L445.4 713.7ZM449.7 727.6L453.3 741.3L445.3 741.1Z"/>
<path fill="#00ff38" d="M281.7 686.5L285.3 700.2L277.3 700ZM281.3 834.4L285.7 847.9L277.7 848.1Z"/>
<rect x="834" y="498.5" width="421" height="421" fill="#bdddcf" stroke="#3f9090" stroke-width="1.5"/>
<polygon points="959.8,513 1128,513 1128,611 959.8,611" fill="#bccfbb" stroke="#8b6b35" stroke-width="1.5" stroke-linejoin="round"/>
<polygon points="959.8,638.8 1128.2,638.8 1128.2,653 1063.4,653 1063.4,764.3 1128.2,764.3 1128.2,779 959.8,779 959.8,764.3 1024,764.3 1024,653 959.8,653" fill="#bccfbb" stroke="#8b6b35" stroke-width="1.8" stroke-linejoin="round"/>
<polygon points="960,808 1128,808 1128,905 960,905" fill="#bccfbb" stroke="#8b6b35" stroke-width="1.5" stroke-linejoin="round"/>
<path fill="#0000ff" d="M959.7 512.3L965.1 527.3L955.5 527.7ZM980.7 516.3L969.6 527.7L965.1 519.3ZM994 515.2L985.1 528.4L979.1 520.9ZM1001.3 512.3L1007.7 526.9L998.2 528ZM1015.9 512.3L1021.3 527.3L1011.7 527.7ZM1030.2 512.3L1035 527.5L1025.4 527.5ZM1044.1 512.3L1049.2 527.4L1039.6 527.6ZM1058.5 512.3L1062.9 527.6L1053.3 527.4ZM1071.1 512.4L1078.3 526.6L1068.8 528.2ZM1084.9 512.4L1092.5 526.5L1083.1 528.3ZM1097.6 512.8L1107.6 525.2L1098.7 528.7ZM973 526.3L979.8 540.7L970.3 542ZM986.3 526.4L994.5 540.1L985.1 542.3ZM1000.4 526.4L1008.5 540.1L999.1 542.3ZM1016.4 526.2L1020.7 541.6L1011.1 541.2ZM1030.2 526.2L1035 541.4L1025.4 541.4ZM1043.9 526.2L1049.4 541.2L1039.8 541.6ZM1058.2 526.2L1063.1 541.4L1053.5 541.4ZM1070.8 526.4L1078.5 540.3L1069.1 542.2ZM1085.4 526.3L1092.1 540.8L1082.5 541.9ZM1100.1 526.2L1105.5 541.2L1095.9 541.6ZM1017.2 540.2L1019.9 555.9L1010.4 554.6ZM1029.9 540.1L1035.3 555.1L1025.7 555.5ZM1044.1 540.1L1049.2 555.2L1039.6 555.4ZM1058.5 540.1L1062.8 555.5L1053.2 555.1ZM1071.9 540.1L1077.5 555L1067.9 555.5ZM1087.2 540.2L1090.3 555.8L1080.7 554.7ZM1100.3 540.1L1105.3 555.2L1095.7 555.4ZM972.4 554.2L980.4 568L971 570.1ZM1030.6 554L1034.6 569.4L1025 569ZM1044.2 554L1049.1 569.2L1039.5 569.2ZM1087.2 554.1L1090.2 569.7L1080.7 568.6ZM1001 568L1008 582.3L998.5 583.7ZM1030.5 567.9L1034.7 583.3L1025.1 582.9ZM1042.6 582L1050.5 595.8L1041.1 597.8ZM1060.5 582.1L1060.7 598.1L1051.5 595.3ZM1023.8 599.2L1039.2 603.4L1034 611.5ZM979.6 498.9L972 514.3L964.9 507.8ZM994.9 500.3L984 513.6L978.6 505.7ZM1006.6 498.1L1001.7 514.5L993.6 509.3ZM1019.4 497.4L1017.3 514.5L1008.5 510.7ZM1031.3 496.8L1033.9 513.8L1024.4 512.6ZM1044.6 496.8L1048.7 513.5L1039.1 513ZM1057.2 496.8L1064.2 512.5L1054.6 513.8ZM1069.5 497.2L1079.6 511.1L1070.6 514.4ZM1081 498.7L1095.4 508.2L1088.1 514.4ZM1092.4 503.1L1109.5 502.3L1107.3 511.6ZM1107.4 500.7L1124 505.2L1119 513.4ZM1122.1 499.8L1137.9 506.5L1131.8 513.9ZM1031.4 794.5L1033.7 810.3L1024.3 808.7ZM1044.9 794.4L1048.3 810L1038.8 809.1ZM1053.3 796.3L1066.9 804.6L1059.7 810.9ZM1019.8 809.3L1016.7 824.9L1008.3 820.3ZM1034.9 810L1029.3 824.9L1021.7 819ZM1054.2 809.6L1066.4 819.8L1058.3 824.9ZM1002.3 836.3L1006.7 851.6L997.1 851.3ZM1017 836.3L1020.1 852L1010.5 850.9ZM1030.7 836.3L1034.5 851.8L1024.9 851.2ZM1043.8 836.3L1049.4 851.2L1039.8 851.7ZM1057.7 836.3L1063.6 851.1L1054.1 851.8ZM1071.6 836.3L1077.8 851L1068.3 851.9ZM987.8 850.2L993.1 865.3L983.5 865.6ZM1001.8 850.2L1007.2 865.3L997.6 865.6ZM1016.5 850.2L1020.6 865.6L1011.1 865.2ZM1031.1 850.3L1034.1 865.9L1024.6 864.9ZM1043.6 850.3L1049.6 865L1040.1 865.8ZM1057.2 850.3L1064.1 864.7L1054.6 866ZM1071.3 850.3L1078.1 864.7L1068.6 866ZM1086.6 850.2L1090.9 865.6L1081.3 865.3ZM1099.7 850.3L1105.8 865L1096.3 865.8ZM983.9 865.5L996.3 875.5L988.3 880.8ZM1001.5 864.2L1007.5 879L997.9 879.7ZM1014.3 864.4L1022.7 878L1013.4 880.4ZM1028.4 864.4L1036.7 878.1L1027.3 880.3ZM1043.5 864.2L1049.7 878.9L1040.2 879.8ZM1057.3 864.3L1064 878.7L1054.5 880ZM1071.3 864.3L1078.1 878.7L1068.6 880ZM1086.5 864.2L1091 879.5L1081.4 879.3ZM1099 864.3L1106.5 878.4L1097.1 880.1ZM954.7 880.3L968.7 887.9L961.8 894.6ZM972.4 878.3L980.4 892.1L971 894.2ZM981 883L996.9 884.1L993.4 893ZM1001.8 878.2L1007.3 893.1L997.7 893.6ZM1013.7 878.6L1023.2 891.4L1014.1 894.5ZM1029.4 878.2L1035.8 892.8L1026.2 893.8ZM1043.3 878.2L1050 892.7L1040.4 893.9ZM1059.1 878.2L1062.2 893.9L1052.6 892.8ZM1072.8 878.2L1076.6 893.6L1067.1 893ZM1091.1 879.8L1085.3 894.7L1077.9 888.7ZM966.7 897.8L982.6 897L980.2 906.3ZM981.4 896.2L997 899L992.5 907.5ZM996.2 895L1011.1 900.7L1005.1 908.2ZM1009.8 895.5L1025.1 899.9L1019.8 907.9ZM1030.6 892.1L1034.6 907.5L1025 907.1ZM1044 892.1L1049.3 907.2L1039.7 907.5ZM1059 892.2L1062.3 907.7L1052.8 906.8ZM1076 893.1L1072.8 908.7L1064.4 904ZM1091.5 894.1L1084.8 908.6L1077.7 902.1ZM1106.2 894.8L1097.7 908.3L1091.5 901ZM1119.9 894.4L1112.3 908.5L1105.6 901.6Z"/>
<path fill="#0070ff" d="M1114.4 512.3L1119.2 527.5L1109.6 527.5ZM1128.6 512.3L1133.1 527.6L1123.5 527.4ZM960.2 526.2L964.6 541.5L955 541.3ZM1114.3 526.2L1119.4 541.3L1109.8 541.5ZM973.8 540.1L979.1 555.1L969.5 555.5ZM985.8 540.5L995 553.5L985.8 556.4ZM999.7 540.5L1009.1 553.4L1000 556.4ZM1128.3 540.1L1133.5 555.2L1123.9 555.4ZM985.7 554.4L995 567.4L985.8 570.3ZM999.8 554.4L1009 567.4L999.9 570.3ZM1014.4 554.2L1022.6 567.8L1013.3 570.1ZM1058.3 554L1063.1 569.2L1053.5 569.2ZM1072 554L1077.4 569L1067.9 569.4ZM1103.1 554.5L1102.2 570.4L1093.2 567ZM1116.2 554.2L1117.4 570.1L1108 567.9ZM969.1 569.7L982.6 578.1L975.3 584.4ZM985.9 568.2L994.8 581.4L985.6 584.1ZM1014.7 568.1L1022.4 582L1013 583.9ZM1044.4 567.9L1048.9 583.2L1039.3 583ZM1058.4 567.9L1063 583.2L1053.4 583ZM1072 567.9L1077.5 582.9L1067.9 583.3ZM1090.9 569.4L1085.6 584.5L1077.9 578.7ZM1104.9 569.4L1099.7 584.5L1092 578.7ZM1115.4 568L1118.2 583.7L1108.7 582.4ZM1128.8 567.9L1133 583.3L1123.4 582.9ZM967.6 585.3L983 589.4L977.9 597.5ZM984.8 582.6L995.7 594.2L987.1 598.3ZM999.6 582.2L1009.1 595L1000.1 598.1ZM1014.4 582L1022.6 595.7L1013.3 597.9ZM1029.2 581.9L1036 596.3L1026.5 597.6ZM1072.9 581.8L1076.5 597.4L1066.9 596.6ZM1089.9 582.7L1087.1 598.4L1078.6 593.9ZM1104.5 583L1100.3 598.4L1092.2 593.2ZM1119.2 583.4L1113.5 598.3L1106 592.4ZM956 596.8L968.1 607.3L959.9 612.3ZM967.4 599.5L983 602.9L978.2 611.2ZM994.8 601.2L1010.7 600.8L1008.1 610ZM1010.1 598.6L1025.1 604.2L1019.2 611.7ZM1044.9 595.7L1048.4 611.3L1038.8 610.5ZM1059.9 595.9L1061.3 611.8L1052 609.7ZM1079.6 601.2L1066.3 610L1063.7 600.7ZM1093.1 599.8L1081.9 611.1L1077.4 602.6ZM1104.5 596.9L1100.4 612.3L1092.3 607.2ZM1121.9 601.7L1108 609.6L1106 600.2ZM960.3 496.8L964.5 513.4L954.9 513.1ZM979.6 796.8L971.7 810.7L965.2 803.6ZM993.9 797.1L985.3 810.6L979.2 803.2ZM1008.5 797.9L998.3 810.1L993.1 802.1ZM1022.3 797.6L1012.8 810.3L1007.2 802.5ZM1066.1 797.7L1081.3 802.4L1075.8 810.3ZM1080.2 797.5L1095.3 802.6L1089.7 810.3ZM1094 797.9L1109.4 802L1104.2 810.1ZM1125.3 795.1L1136 806.9L1127.3 810.9ZM981.6 815L967.1 821.7L965.9 812.2ZM992.2 809.6L988 824.9L979.9 819.8ZM1008.2 811.4L998.9 824.4L993.2 816.7ZM1044.6 808.4L1048.7 823.8L1039.1 823.3ZM1071.6 808.4L1077.8 823.1L1068.2 824ZM1079.3 813.2L1095.2 814.3L1091.7 823.2ZM1093.1 814L1109 813.3L1106.5 822.6ZM1113 808.5L1120.6 822.5L1111.1 824.3ZM975.1 822.4L977.7 838.1L968.2 836.7ZM989.9 822.5L990.9 838.5L981.6 836.1ZM1003.4 822.4L1005.6 838.2L996.1 836.6ZM1017.6 822.5L1019.4 838.3L1010 836.5ZM1031.5 822.4L1033.6 838.2L1024.2 836.6ZM1044.3 822.3L1049 837.6L1039.4 837.5ZM1056.7 822.5L1064.5 836.4L1055.1 838.3ZM1069.1 823L1079.9 834.7L1071.2 838.8ZM1084.4 822.6L1092.9 836.1L1083.6 838.5ZM1098.5 822.6L1106.9 836.1L1097.7 838.5ZM1113.3 822.4L1120.4 836.7L1110.9 838.2ZM1128.2 822.3L1133.6 837.3L1124 837.7ZM974.5 836.3L978.4 851.8L968.8 851.2ZM989.2 836.4L991.7 852.1L982.2 850.7ZM1084.9 836.4L1092.5 850.4L1083.1 852.3ZM1098.6 836.5L1106.8 850.1L1097.5 852.4ZM1113.2 836.4L1120.4 850.6L1110.9 852.2ZM974.4 850.2L978.5 865.6L968.9 865.2ZM1114.7 850.2L1118.9 865.6L1109.3 865.2ZM1128.1 850.2L1133.6 865.2L1124.1 865.7ZM960.1 864.2L964.7 879.4L955.1 879.4ZM973.7 864.2L979.1 879.2L969.5 879.6ZM1114.8 864.2L1118.9 879.6L1109.3 879.2ZM1102 878.3L1103.5 894.2L1094.1 892.2ZM1116.2 878.4L1117.3 894.3L1108 892ZM957.1 892.7L967.4 904.9L958.5 908.6Z"/>
<path fill="#00e0ff" d="M1128.2 526.2L1133.6 541.2L1124 541.6ZM960 540.1L964.8 555.3L955.2 555.3ZM1114.1 540.1L1119.6 555L1110 555.5ZM1128.5 554L1133.3 569.2L1123.7 569.2ZM959.6 567.9L965.2 582.9L955.6 583.3ZM980.5 603.5L995.6 598.3L995.8 607.9ZM1128.1 595.7L1133.7 610.6L1124.1 611.1ZM960.2 794.4L964.6 809.7L955 809.4ZM1106.8 802.1L1122 797.1L1122.1 806.7ZM960.2 808.4L964.6 823.7L955 823.5ZM1128.8 808.4L1132.9 823.8L1123.3 823.3ZM959.8 822.3L965 837.4L955.4 837.6ZM960.4 836.3L964.4 851.7L954.8 851.2ZM1128.8 836.3L1133 851.7L1123.4 851.3ZM960 850.2L964.8 865.4L955.2 865.5ZM1128.4 864.2L1133.3 879.4L1123.7 879.4ZM1128.5 878.2L1133.3 893.4L1123.7 893.4ZM1128.6 892.1L1133.2 907.4L1123.6 907.2Z"/>
<path fill="#00ffaa" d="M960 554L964.8 569.2L955.2 569.2ZM960.3 581.8L964.5 597.2L954.9 596.8ZM1128.4 581.8L1133.3 597L1123.7 597Z"/>
<path fill="#ff0000" d="M1030.3 648.9L1034.9 664.2L1025.3 664ZM1030 662.2L1035.2 677.3L1025.6 677.5ZM1030.2 675.5L1035 690.7L1025.4 690.7ZM1030.5 688.8L1034.7 704.2L1025.2 703.8ZM1030.3 702.1L1034.9 717.4L1025.3 717.2ZM1030 715.4L1035.2 730.5L1025.6 730.7ZM1030 728.7L1035.2 743.8L1025.6 744ZM1030.3 742L1034.9 757.2L1025.3 757.2ZM1043.4 630.3L1049.4 645.1L1039.8 645.8ZM1043.9 644.1L1048.9 659.2L1039.3 659.3ZM1044 657.8L1048.8 673L1039.2 673ZM1044 671.6L1048.8 686.8L1039.2 686.7ZM1044.2 685.3L1048.6 700.6L1039 700.4ZM1043.9 699.1L1048.9 714.2L1039.3 714.3ZM1044 712.8L1048.8 728L1039.2 728ZM1043.9 726.6L1048.9 741.7L1039.3 741.8ZM1044 740.3L1048.8 755.5L1039.2 755.5ZM1060.4 632.2L1060.9 648.1L1051.6 645.5ZM1058.4 645.5L1063 660.8L1053.4 660.6ZM1058.6 659.1L1062.8 674.5L1053.2 674.1ZM1058.6 672.7L1062.7 688.1L1053.2 687.7ZM1058.4 686.3L1063 701.5L1053.4 701.5ZM1058.7 699.9L1062.7 715.3L1053.1 714.9ZM1058.5 713.5L1062.9 728.8L1053.3 728.5ZM1058.6 727.1L1062.8 742.5L1053.2 742.1ZM1058.6 740.7L1062.8 756.1L1053.2 755.7ZM960.4 647.7L975.6 642.9L975.6 652.5ZM1002.2 647.7L1017.4 642.9L1017.4 652.5ZM1018.9 640.5L1034.1 645.3L1028.6 653.2ZM1086.3 647.7L1071.1 652.5L1071.1 642.9ZM1100.6 647.7L1085.4 652.5L1085.4 642.9ZM1114.3 647.7L1099.1 652.5L1099.1 642.9ZM1128.1 647.7L1112.9 652.5L1112.9 642.9ZM1002.6 769.9L987.4 774.7L987.4 765.1ZM1016.9 769.9L1001.7 774.7L1001.7 765.1ZM1030.2 769.9L1015 774.7L1015 765.1ZM1039.5 762L1029.8 774.6L1024.3 766.8ZM1058.8 769.9L1074 765.1L1074 774.7ZM1072.1 769.9L1087.3 765.1L1087.3 774.7ZM1086.4 769.9L1101.6 765.1L1101.6 774.7Z"/>
<path fill="#ffe000" d="M974.1 647.7L989.3 642.9L989.3 652.5ZM988.4 647.7L1003.6 642.9L1003.6 652.5ZM987.8 769.9L972.6 774.7L972.6 765.1Z"/>
<path fill="#00ff38" d="M955.2 633.2L964.9 645.8L955.8 649.1Z"/>
<path fill="#00ffaa" d="M1135.5 635.3L1132.1 650.8L1123.8 646ZM1040 754.9L1048.5 768.3L1039.3 770.8ZM1130.1 754.1L1134.1 769.6L1124.5 769.1Z"/>
<path fill="#38ff00" d="M972.5 764.1L961.7 775.8L956.9 767.5ZM1099.6 769.9L1114.8 765.1L1114.8 774.7Z"/>
<path fill="#ffe000" d="M1056.6 756.2L1062.7 770.9L1053.1 771.8Z"/>
<path d="M365.4 1024.2V1444.5M180.2 1234.3H550.6" stroke="#d2d2d2" stroke-width="1.2" fill="none"/>
<path d="M180.2 1444.5v-7M180.2 1024.2v7M180.2 1024.2h7M550.6 1024.2h-7M272.8 1444.5v-4M272.8 1024.2v4M180.2 1129.3h4M550.6 1129.3h-4M365.4 1444.5v-7M365.4 1024.2v7M180.2 1234.3h7M550.6 1234.3h-7M458 1444.5v-4M458 1024.2v4M180.2 1339.4h4M550.6 1339.4h-4M550.6 1444.5v-7M550.6 1024.2v7M180.2 1444.5h7M550.6 1444.5h-7" stroke="#000" stroke-width="1.3" fill="none"/>
<rect x="180.2" y="1024.2" width="370.4" height="420.3" fill="none" stroke="#000" stroke-width="1.6"/>
<polyline points="195.4,1084.2 226.2,1094.6 256.7,1101.8 287.9,1106.6 318.7,1108.6 349.6,1110.2 365.2,1110.6 380.4,1111.4 411.2,1112.2 442.5,1115 473.3,1114.6 503.8,1115.8" fill="none" stroke="#f00" stroke-width="4.6" stroke-linejoin="round"/>
<path d="M189.4 1078.2h12v12h-12zM220.2 1088.6h12v12h-12zM250.7 1095.8h12v12h-12zM281.9 1100.6h12v12h-12zM312.7 1102.6h12v12h-12zM343.6 1104.2h12v12h-12zM359.2 1104.6h12v12h-12zM374.4 1105.4h12v12h-12zM405.2 1106.2h12v12h-12zM436.5 1109h12v12h-12zM467.3 1108.6h12v12h-12zM497.8 1109.8h12v12h-12z" fill="#f00"/>
<text x="172.2" y="1035.2" font-size="34.3" fill="#000" text-anchor="end">0</text>
<text x="172.2" y="1245.3" font-size="34.3" fill="#000" text-anchor="end">-300</text>
<text x="172.2" y="1455.5" font-size="34.3" fill="#000" text-anchor="end">-600</text>
<text x="178.7" y="1477" font-size="34.3" fill="#000" text-anchor="middle">2</text>
<text x="365.4" y="1477" font-size="34.3" fill="#000" text-anchor="middle">8</text>
<text x="551.1" y="1477" font-size="34.3" fill="#000" text-anchor="middle">14</text>
<text transform="translate(101.7 1234.8) rotate(-90)" font-size="40" text-anchor="middle">Phase (degree)</text>
<text x="364.4" y="1499.5" font-size="40" text-anchor="middle"><tspan font-style="italic">l</tspan><tspan font-size="26" dy="9">1</tspan><tspan dy="-9"> (mm)</tspan></text>
<path d="M1045 1024.2V1445.5M858.6 1234.8H1231.4" stroke="#d2d2d2" stroke-width="1.2" fill="none"/>
<path d="M858.6 1445.5v-7M858.6 1024.2v7M858.6 1024.2h7M1231.4 1024.2h-7M951.8 1445.5v-4M951.8 1024.2v4M858.6 1129.5h4M1231.4 1129.5h-4M1045 1445.5v-7M1045 1024.2v7M858.6 1234.8h7M1231.4 1234.8h-7M1138.2 1445.5v-4M1138.2 1024.2v4M858.6 1340.2h4M1231.4 1340.2h-4M1231.4 1445.5v-7M1231.4 1024.2v7M858.6 1445.5h7M1231.4 1445.5h-7" stroke="#000" stroke-width="1.3" fill="none"/>
<rect x="858.6" y="1024.2" width="372.8" height="421.3" fill="none" stroke="#000" stroke-width="1.6"/>
<polyline points="873.5,1091.7 905.1,1116.9 936.2,1147.1 967.3,1184.6 982.6,1205.5 998,1225.9 1029.5,1262.6 1060.6,1286.5 1091.7,1302.6 1122.8,1313.7 1153.5,1321.8 1185,1327.8" fill="none" stroke="#f00" stroke-width="4.6" stroke-linejoin="round"/>
<path d="M867.5 1085.7h12v12h-12zM899.1 1110.9h12v12h-12zM930.2 1141.1h12v12h-12zM961.3 1178.6h12v12h-12zM976.6 1199.5h12v12h-12zM992 1219.9h12v12h-12zM1023.5 1256.6h12v12h-12zM1054.6 1280.5h12v12h-12zM1085.7 1296.6h12v12h-12zM1116.8 1307.7h12v12h-12zM1147.5 1315.8h12v12h-12zM1179 1321.8h12v12h-12z" fill="#f00"/>
<text x="850.6" y="1035.2" font-size="34.3" fill="#000" text-anchor="end">0</text>
<text x="850.6" y="1245.8" font-size="34.3" fill="#000" text-anchor="end">-300</text>
<text x="850.6" y="1456.5" font-size="34.3" fill="#000" text-anchor="end">-600</text>
<text x="857.1" y="1478" font-size="34.3" fill="#000" text-anchor="middle">2</text>
<text x="1045" y="1478" font-size="34.3" fill="#000" text-anchor="middle">8</text>
<text x="1231.9" y="1478" font-size="34.3" fill="#000" text-anchor="middle">14</text>
<text transform="translate(780.1 1235.3) rotate(-90)" font-size="40" text-anchor="middle">Phase (degree)</text>
<text x="1044" y="1500.5" font-size="40" text-anchor="middle"><tspan font-style="italic">l</tspan><tspan font-size="26" dy="9">1</tspan><tspan dy="-9"> (mm)</tspan></text>
<path d="M1727.2 1024.2V1445.5M1541.3 1234.8H1913.1" stroke="#d2d2d2" stroke-width="1.2" fill="none"/>
<path d="M1541.3 1445.5v-7M1541.3 1024.2v7M1541.3 1024.2h7M1913.1 1024.2h-7M1634.2 1445.5v-4M1634.2 1024.2v4M1541.3 1129.5h4M1913.1 1129.5h-4M1727.2 1445.5v-7M1727.2 1024.2v7M1541.3 1234.8h7M1913.1 1234.8h-7M1820.1 1445.5v-4M1820.1 1024.2v4M1541.3 1340.2h4M1913.1 1340.2h-4M1913.1 1445.5v-7M1913.1 1024.2v7M1541.3 1445.5h7M1913.1 1445.5h-7" stroke="#000" stroke-width="1.3" fill="none"/>
<rect x="1541.3" y="1024.2" width="371.8" height="421.3" fill="none" stroke="#000" stroke-width="1.6"/>
<polyline points="1555.8,1098.9 1586.8,1117.6 1617.9,1146.6 1649,1183.2 1664.4,1204.1 1680.1,1224.1 1711.2,1261.2 1742.3,1289.7 1804.5,1338.7 1835.6,1365.1 1865.8,1396.2" fill="none" stroke="#f00" stroke-width="4.6" stroke-linejoin="round"/>
<path d="M1549.8 1092.9h12v12h-12zM1580.8 1111.6h12v12h-12zM1611.9 1140.6h12v12h-12zM1643 1177.2h12v12h-12zM1658.4 1198.1h12v12h-12zM1674.1 1218.1h12v12h-12zM1705.2 1255.2h12v12h-12zM1736.3 1283.7h12v12h-12zM1798.5 1332.7h12v12h-12zM1829.6 1359.1h12v12h-12zM1859.8 1390.2h12v12h-12z" fill="#f00"/>
<text x="1533.3" y="1035.2" font-size="34.3" fill="#000" text-anchor="end">0</text>
<text x="1533.3" y="1245.8" font-size="34.3" fill="#000" text-anchor="end">-300</text>
<text x="1533.3" y="1456.5" font-size="34.3" fill="#000" text-anchor="end">-600</text>
<text x="1539.8" y="1478" font-size="34.3" fill="#000" text-anchor="middle">2</text>
<text x="1727.2" y="1478" font-size="34.3" fill="#000" text-anchor="middle">8</text>
<text x="1913.6" y="1478" font-size="34.3" fill="#000" text-anchor="middle">14</text>
<text transform="translate(1462.8 1235.3) rotate(-90)" font-size="40" text-anchor="middle">Phase (degree)</text>
<text x="1726.2" y="1500.5" font-size="40" text-anchor="middle"><tspan font-style="italic">l</tspan><tspan font-size="26" dy="9">1</tspan><tspan dy="-9"> (mm)</tspan></text>
<polygon points="618,952 689,952 689,915 764,977 689,1037 689,1001 618,1001" fill="#000" stroke="#000" stroke-width="2" stroke-linejoin="round"/>
<polygon points="1310,952 1381,952 1381,915 1456,977 1381,1037 1381,1001 1310,1001" fill="#000" stroke="#000" stroke-width="2" stroke-linejoin="round"/>
<text x="548.7" y="479.7" font-size="40" fill="#000" text-anchor="middle">(a)</text>
<text x="1479" y="479.7" font-size="40" fill="#000" text-anchor="middle">(b)</text>
<text x="1013" y="1548.8" font-size="40" fill="#000" text-anchor="middle">(c)</text>
</svg>
</body></html>
